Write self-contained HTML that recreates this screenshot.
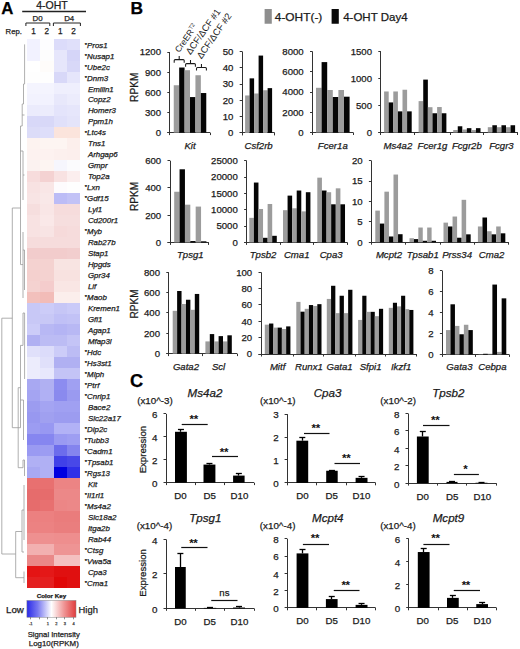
<!DOCTYPE html>
<html><head><meta charset="utf-8"><title>Figure</title>
<style>
html,body{margin:0;padding:0;background:#fff;}
body{width:520px;height:649px;overflow:hidden;}
svg{display:block;font-family:"Liberation Sans", sans-serif;}
</style></head>
<body>
<svg width="520" height="649" viewBox="0 0 520 649">
<rect width="520" height="649" fill="#fff"/>
<text x="1.30" y="13.80" font-size="16.8" text-anchor="start" font-weight="bold" fill="#000" stroke="#000" stroke-width="0.25">A</text>
<text x="52.00" y="9.00" font-size="10.5" text-anchor="middle" fill="#1a1a1a" stroke="#1a1a1a" stroke-width="0.25">4-OHT</text>
<line x1="22.20" y1="11.50" x2="86.00" y2="11.50" stroke="#222" stroke-width="1.3"/>
<text x="37.50" y="20.90" font-size="7.9" text-anchor="middle" fill="#1a1a1a" stroke="#1a1a1a" stroke-width="0.25">D0</text>
<text x="69.20" y="20.90" font-size="7.9" text-anchor="middle" fill="#1a1a1a" stroke="#1a1a1a" stroke-width="0.25">D4</text>
<path d="M25.90,26.00 V23.00 H49.80 V26.00" fill="none" stroke="#222" stroke-width="1"/>
<path d="M53.40,26.00 V23.00 H80.40 V26.00" fill="none" stroke="#222" stroke-width="1"/>
<text x="5.60" y="33.60" font-size="7.7" text-anchor="start" fill="#1a1a1a" stroke="#1a1a1a" stroke-width="0.25">Rep.</text>
<text x="33.60" y="33.90" font-size="8.2" text-anchor="middle" fill="#1a1a1a" stroke="#1a1a1a" stroke-width="0.25">1</text>
<text x="46.90" y="33.90" font-size="8.2" text-anchor="middle" fill="#1a1a1a" stroke="#1a1a1a" stroke-width="0.25">2</text>
<text x="60.30" y="33.90" font-size="8.2" text-anchor="middle" fill="#1a1a1a" stroke="#1a1a1a" stroke-width="0.25">1</text>
<text x="73.60" y="33.90" font-size="8.2" text-anchor="middle" fill="#1a1a1a" stroke="#1a1a1a" stroke-width="0.25">2</text>
<g shape-rendering="crispEdges">
<rect x="27.00" y="39.00" width="13.25" height="11.03" fill="#f2f2ff"/>
<rect x="40.20" y="39.00" width="13.35" height="11.03" fill="#fdfdff"/>
<rect x="53.50" y="39.00" width="13.55" height="11.03" fill="#dcdcfa"/>
<rect x="67.00" y="39.00" width="13.25" height="11.03" fill="#e0e0fa"/>
<rect x="27.00" y="49.98" width="13.25" height="11.03" fill="#f2f2ff"/>
<rect x="40.20" y="49.98" width="13.35" height="11.03" fill="#fdfdfd"/>
<rect x="53.50" y="49.98" width="13.55" height="11.03" fill="#e6e6fb"/>
<rect x="67.00" y="49.98" width="13.25" height="11.03" fill="#d5d5f8"/>
<rect x="27.00" y="60.96" width="13.25" height="11.03" fill="#ffffff"/>
<rect x="40.20" y="60.96" width="13.35" height="11.03" fill="#fefcfa"/>
<rect x="53.50" y="60.96" width="13.55" height="11.03" fill="#e6e6fb"/>
<rect x="67.00" y="60.96" width="13.25" height="11.03" fill="#d8d8f8"/>
<rect x="27.00" y="71.94" width="13.25" height="11.03" fill="#fefefe"/>
<rect x="40.20" y="71.94" width="13.35" height="11.03" fill="#fefefe"/>
<rect x="53.50" y="71.94" width="13.55" height="11.03" fill="#d8d8f8"/>
<rect x="67.00" y="71.94" width="13.25" height="11.03" fill="#e6e6fb"/>
<rect x="27.00" y="82.92" width="13.25" height="11.03" fill="#f4f4fe"/>
<rect x="40.20" y="82.92" width="13.35" height="11.03" fill="#f4f4fe"/>
<rect x="53.50" y="82.92" width="13.55" height="11.03" fill="#efeffd"/>
<rect x="67.00" y="82.92" width="13.25" height="11.03" fill="#efeffd"/>
<rect x="27.00" y="93.90" width="13.25" height="11.03" fill="#f2f2fe"/>
<rect x="40.20" y="93.90" width="13.35" height="11.03" fill="#f2f2fe"/>
<rect x="53.50" y="93.90" width="13.55" height="11.03" fill="#e8e8fb"/>
<rect x="67.00" y="93.90" width="13.25" height="11.03" fill="#ececfc"/>
<rect x="27.00" y="104.88" width="13.25" height="11.03" fill="#ebebfc"/>
<rect x="40.20" y="104.88" width="13.35" height="11.03" fill="#ececfc"/>
<rect x="53.50" y="104.88" width="13.55" height="11.03" fill="#e4e4fb"/>
<rect x="67.00" y="104.88" width="13.25" height="11.03" fill="#e6e6fb"/>
<rect x="27.00" y="115.86" width="13.25" height="11.03" fill="#d8d8f8"/>
<rect x="40.20" y="115.86" width="13.35" height="11.03" fill="#d8d8f8"/>
<rect x="53.50" y="115.86" width="13.55" height="11.03" fill="#e0e0fa"/>
<rect x="67.00" y="115.86" width="13.25" height="11.03" fill="#e4e4fa"/>
<rect x="27.00" y="126.84" width="13.25" height="11.03" fill="#dcdcf8"/>
<rect x="40.20" y="126.84" width="13.35" height="11.03" fill="#dedefa"/>
<rect x="53.50" y="126.84" width="13.55" height="11.03" fill="#fbe4dc"/>
<rect x="67.00" y="126.84" width="13.25" height="11.03" fill="#fbe4dc"/>
<rect x="27.00" y="137.82" width="13.25" height="11.03" fill="#fdf3f0"/>
<rect x="40.20" y="137.82" width="13.35" height="11.03" fill="#fdf5f2"/>
<rect x="53.50" y="137.82" width="13.55" height="11.03" fill="#fdf5f2"/>
<rect x="67.00" y="137.82" width="13.25" height="11.03" fill="#fcefec"/>
<rect x="27.00" y="148.80" width="13.25" height="11.03" fill="#fdf2f0"/>
<rect x="40.20" y="148.80" width="13.35" height="11.03" fill="#fdf2f0"/>
<rect x="53.50" y="148.80" width="13.55" height="11.03" fill="#fcf0ee"/>
<rect x="67.00" y="148.80" width="13.25" height="11.03" fill="#fcefed"/>
<rect x="27.00" y="159.78" width="13.25" height="11.03" fill="#fbf2f0"/>
<rect x="40.20" y="159.78" width="13.35" height="11.03" fill="#fdf5f2"/>
<rect x="53.50" y="159.78" width="13.55" height="11.03" fill="#f6f6fd"/>
<rect x="67.00" y="159.78" width="13.25" height="11.03" fill="#fbfbfd"/>
<rect x="27.00" y="170.76" width="13.25" height="11.03" fill="#f7dcdc"/>
<rect x="40.20" y="170.76" width="13.35" height="11.03" fill="#f4d2d2"/>
<rect x="53.50" y="170.76" width="13.55" height="11.03" fill="#f8e2e2"/>
<rect x="67.00" y="170.76" width="13.25" height="11.03" fill="#fbeeee"/>
<rect x="27.00" y="181.74" width="13.25" height="11.03" fill="#f8e2e2"/>
<rect x="40.20" y="181.74" width="13.35" height="11.03" fill="#f9e6e6"/>
<rect x="53.50" y="181.74" width="13.55" height="11.03" fill="#fdfbfd"/>
<rect x="67.00" y="181.74" width="13.25" height="11.03" fill="#fefefe"/>
<rect x="27.00" y="192.72" width="13.25" height="11.03" fill="#f8e4e4"/>
<rect x="40.20" y="192.72" width="13.35" height="11.03" fill="#f9e8e8"/>
<rect x="53.50" y="192.72" width="13.55" height="11.03" fill="#bcbcf6"/>
<rect x="67.00" y="192.72" width="13.25" height="11.03" fill="#c2c2f6"/>
<rect x="27.00" y="203.70" width="13.25" height="11.03" fill="#f6dede"/>
<rect x="40.20" y="203.70" width="13.35" height="11.03" fill="#f9e6e6"/>
<rect x="53.50" y="203.70" width="13.55" height="11.03" fill="#f6dcdc"/>
<rect x="67.00" y="203.70" width="13.25" height="11.03" fill="#f6dcdc"/>
<rect x="27.00" y="214.68" width="13.25" height="11.03" fill="#f8e2e2"/>
<rect x="40.20" y="214.68" width="13.35" height="11.03" fill="#fae8e8"/>
<rect x="53.50" y="214.68" width="13.55" height="11.03" fill="#f6dede"/>
<rect x="67.00" y="214.68" width="13.25" height="11.03" fill="#f6dede"/>
<rect x="27.00" y="225.66" width="13.25" height="11.03" fill="#f8e2e2"/>
<rect x="40.20" y="225.66" width="13.35" height="11.03" fill="#f8e4e4"/>
<rect x="53.50" y="225.66" width="13.55" height="11.03" fill="#f6dada"/>
<rect x="67.00" y="225.66" width="13.25" height="11.03" fill="#f6dcdc"/>
<rect x="27.00" y="236.64" width="13.25" height="11.03" fill="#f6dcdc"/>
<rect x="40.20" y="236.64" width="13.35" height="11.03" fill="#f6dcdc"/>
<rect x="53.50" y="236.64" width="13.55" height="11.03" fill="#f6dcdc"/>
<rect x="67.00" y="236.64" width="13.25" height="11.03" fill="#f6dcdc"/>
<rect x="27.00" y="247.62" width="13.25" height="11.03" fill="#f2cccc"/>
<rect x="40.20" y="247.62" width="13.35" height="11.03" fill="#f2cccc"/>
<rect x="53.50" y="247.62" width="13.55" height="11.03" fill="#f2cccc"/>
<rect x="67.00" y="247.62" width="13.25" height="11.03" fill="#f2cece"/>
<rect x="27.00" y="258.60" width="13.25" height="11.03" fill="#f4d2d0"/>
<rect x="40.20" y="258.60" width="13.35" height="11.03" fill="#f4d2d0"/>
<rect x="53.50" y="258.60" width="13.55" height="11.03" fill="#f8e4e2"/>
<rect x="67.00" y="258.60" width="13.25" height="11.03" fill="#f8e4e2"/>
<rect x="27.00" y="269.58" width="13.25" height="11.03" fill="#f4d0ce"/>
<rect x="40.20" y="269.58" width="13.35" height="11.03" fill="#f4d2d0"/>
<rect x="53.50" y="269.58" width="13.55" height="11.03" fill="#f8e2e0"/>
<rect x="67.00" y="269.58" width="13.25" height="11.03" fill="#f8e2e0"/>
<rect x="27.00" y="280.56" width="13.25" height="11.03" fill="#f4d2d0"/>
<rect x="40.20" y="280.56" width="13.35" height="11.03" fill="#f4cccc"/>
<rect x="53.50" y="280.56" width="13.55" height="11.03" fill="#f9e6e4"/>
<rect x="67.00" y="280.56" width="13.25" height="11.03" fill="#f9e6e4"/>
<rect x="27.00" y="291.54" width="13.25" height="11.03" fill="#f2c0bc"/>
<rect x="40.20" y="291.54" width="13.35" height="11.03" fill="#f2bcb8"/>
<rect x="53.50" y="291.54" width="13.55" height="11.03" fill="#fbeeec"/>
<rect x="67.00" y="291.54" width="13.25" height="11.03" fill="#fbeeec"/>
<rect x="27.00" y="302.52" width="13.25" height="11.03" fill="#c8c8f6"/>
<rect x="40.20" y="302.52" width="13.35" height="11.03" fill="#ccccf8"/>
<rect x="53.50" y="302.52" width="13.55" height="11.03" fill="#c6c6f6"/>
<rect x="67.00" y="302.52" width="13.25" height="11.03" fill="#cacaf8"/>
<rect x="27.00" y="313.50" width="13.25" height="11.03" fill="#c8c8f6"/>
<rect x="40.20" y="313.50" width="13.35" height="11.03" fill="#c8c8f6"/>
<rect x="53.50" y="313.50" width="13.55" height="11.03" fill="#c0c0f6"/>
<rect x="67.00" y="313.50" width="13.25" height="11.03" fill="#c2c2f6"/>
<rect x="27.00" y="324.48" width="13.25" height="11.03" fill="#ccccf8"/>
<rect x="40.20" y="324.48" width="13.35" height="11.03" fill="#b8b8f4"/>
<rect x="53.50" y="324.48" width="13.55" height="11.03" fill="#b4b4f4"/>
<rect x="67.00" y="324.48" width="13.25" height="11.03" fill="#b8b8f4"/>
<rect x="27.00" y="335.46" width="13.25" height="11.03" fill="#b0b0f2"/>
<rect x="40.20" y="335.46" width="13.35" height="11.03" fill="#bcbcf4"/>
<rect x="53.50" y="335.46" width="13.55" height="11.03" fill="#bcbcf4"/>
<rect x="67.00" y="335.46" width="13.25" height="11.03" fill="#c4c4f6"/>
<rect x="27.00" y="346.44" width="13.25" height="11.03" fill="#e0e0fa"/>
<rect x="40.20" y="346.44" width="13.35" height="11.03" fill="#dcdcfa"/>
<rect x="53.50" y="346.44" width="13.55" height="11.03" fill="#ccccf8"/>
<rect x="67.00" y="346.44" width="13.25" height="11.03" fill="#bcbcf4"/>
<rect x="27.00" y="357.42" width="13.25" height="11.03" fill="#ececfc"/>
<rect x="40.20" y="357.42" width="13.35" height="11.03" fill="#e0e0fa"/>
<rect x="53.50" y="357.42" width="13.55" height="11.03" fill="#b0b0f2"/>
<rect x="67.00" y="357.42" width="13.25" height="11.03" fill="#b0b0f2"/>
<rect x="27.00" y="368.40" width="13.25" height="11.03" fill="#ececfc"/>
<rect x="40.20" y="368.40" width="13.35" height="11.03" fill="#e8e8fc"/>
<rect x="53.50" y="368.40" width="13.55" height="11.03" fill="#c4c4f6"/>
<rect x="67.00" y="368.40" width="13.25" height="11.03" fill="#c4c4f6"/>
<rect x="27.00" y="379.38" width="13.25" height="11.03" fill="#a8a8f2"/>
<rect x="40.20" y="379.38" width="13.35" height="11.03" fill="#b0b0f2"/>
<rect x="53.50" y="379.38" width="13.55" height="11.03" fill="#8c8cf0"/>
<rect x="67.00" y="379.38" width="13.25" height="11.03" fill="#a0a0f2"/>
<rect x="27.00" y="390.36" width="13.25" height="11.03" fill="#a4a4f2"/>
<rect x="40.20" y="390.36" width="13.35" height="11.03" fill="#b0b0f4"/>
<rect x="53.50" y="390.36" width="13.55" height="11.03" fill="#8a8aee"/>
<rect x="67.00" y="390.36" width="13.25" height="11.03" fill="#9a9af0"/>
<rect x="27.00" y="401.34" width="13.25" height="11.03" fill="#9c9cf0"/>
<rect x="40.20" y="401.34" width="13.35" height="11.03" fill="#a4a4f2"/>
<rect x="53.50" y="401.34" width="13.55" height="11.03" fill="#a0a0f2"/>
<rect x="67.00" y="401.34" width="13.25" height="11.03" fill="#a0a0f2"/>
<rect x="27.00" y="412.32" width="13.25" height="11.03" fill="#9898f0"/>
<rect x="40.20" y="412.32" width="13.35" height="11.03" fill="#a0a0f0"/>
<rect x="53.50" y="412.32" width="13.55" height="11.03" fill="#9c9cf0"/>
<rect x="67.00" y="412.32" width="13.25" height="11.03" fill="#9c9cf0"/>
<rect x="27.00" y="423.30" width="13.25" height="11.03" fill="#9c9cf2"/>
<rect x="40.20" y="423.30" width="13.35" height="11.03" fill="#9898f2"/>
<rect x="53.50" y="423.30" width="13.55" height="11.03" fill="#b2b2f6"/>
<rect x="67.00" y="423.30" width="13.25" height="11.03" fill="#b2b2f6"/>
<rect x="27.00" y="434.28" width="13.25" height="11.03" fill="#8686f0"/>
<rect x="40.20" y="434.28" width="13.35" height="11.03" fill="#8686f0"/>
<rect x="53.50" y="434.28" width="13.55" height="11.03" fill="#9a9af2"/>
<rect x="67.00" y="434.28" width="13.25" height="11.03" fill="#9e9ef2"/>
<rect x="27.00" y="445.26" width="13.25" height="11.03" fill="#9a9af2"/>
<rect x="40.20" y="445.26" width="13.35" height="11.03" fill="#9c9cf2"/>
<rect x="53.50" y="445.26" width="13.55" height="11.03" fill="#6c6cec"/>
<rect x="67.00" y="445.26" width="13.25" height="11.03" fill="#8484ee"/>
<rect x="27.00" y="456.24" width="13.25" height="11.03" fill="#b0b0f4"/>
<rect x="40.20" y="456.24" width="13.35" height="11.03" fill="#b0b0f4"/>
<rect x="53.50" y="456.24" width="13.55" height="11.03" fill="#4040e8"/>
<rect x="67.00" y="456.24" width="13.25" height="11.03" fill="#4848e8"/>
<rect x="27.00" y="467.22" width="13.25" height="11.03" fill="#a8a8f2"/>
<rect x="40.20" y="467.22" width="13.35" height="11.03" fill="#b0b0f4"/>
<rect x="53.50" y="467.22" width="13.55" height="11.03" fill="#0000e0"/>
<rect x="67.00" y="467.22" width="13.25" height="11.03" fill="#3030e8"/>
<rect x="27.00" y="478.20" width="13.25" height="11.03" fill="#e87070"/>
<rect x="40.20" y="478.20" width="13.35" height="11.03" fill="#e87070"/>
<rect x="53.50" y="478.20" width="13.55" height="11.03" fill="#ec8484"/>
<rect x="67.00" y="478.20" width="13.25" height="11.03" fill="#ec8484"/>
<rect x="27.00" y="489.18" width="13.25" height="11.03" fill="#e66c6c"/>
<rect x="40.20" y="489.18" width="13.35" height="11.03" fill="#e66c6c"/>
<rect x="53.50" y="489.18" width="13.55" height="11.03" fill="#ec8888"/>
<rect x="67.00" y="489.18" width="13.25" height="11.03" fill="#ec8888"/>
<rect x="27.00" y="500.16" width="13.25" height="11.03" fill="#e66c6c"/>
<rect x="40.20" y="500.16" width="13.35" height="11.03" fill="#e87070"/>
<rect x="53.50" y="500.16" width="13.55" height="11.03" fill="#ec8686"/>
<rect x="67.00" y="500.16" width="13.25" height="11.03" fill="#ec8888"/>
<rect x="27.00" y="511.14" width="13.25" height="11.03" fill="#ec8080"/>
<rect x="40.20" y="511.14" width="13.35" height="11.03" fill="#ec8080"/>
<rect x="53.50" y="511.14" width="13.55" height="11.03" fill="#ea7c7c"/>
<rect x="67.00" y="511.14" width="13.25" height="11.03" fill="#ea7c7c"/>
<rect x="27.00" y="522.12" width="13.25" height="11.03" fill="#ec8282"/>
<rect x="40.20" y="522.12" width="13.35" height="11.03" fill="#ec8282"/>
<rect x="53.50" y="522.12" width="13.55" height="11.03" fill="#ea7e7e"/>
<rect x="67.00" y="522.12" width="13.25" height="11.03" fill="#ea7e7e"/>
<rect x="27.00" y="533.10" width="13.25" height="11.03" fill="#ee9090"/>
<rect x="40.20" y="533.10" width="13.35" height="11.03" fill="#ee9090"/>
<rect x="53.50" y="533.10" width="13.55" height="11.03" fill="#ee8e8e"/>
<rect x="67.00" y="533.10" width="13.25" height="11.03" fill="#ee8e8e"/>
<rect x="27.00" y="544.08" width="13.25" height="11.03" fill="#f2b0b0"/>
<rect x="40.20" y="544.08" width="13.35" height="11.03" fill="#f2b0b0"/>
<rect x="53.50" y="544.08" width="13.55" height="11.03" fill="#ee9494"/>
<rect x="67.00" y="544.08" width="13.25" height="11.03" fill="#ee9494"/>
<rect x="27.00" y="555.06" width="13.25" height="11.03" fill="#ea8888"/>
<rect x="40.20" y="555.06" width="13.35" height="11.03" fill="#ea8888"/>
<rect x="53.50" y="555.06" width="13.55" height="11.03" fill="#f4c0c0"/>
<rect x="67.00" y="555.06" width="13.25" height="11.03" fill="#f4c0c0"/>
<rect x="27.00" y="566.04" width="13.25" height="11.03" fill="#e41414"/>
<rect x="40.20" y="566.04" width="13.35" height="11.03" fill="#e41818"/>
<rect x="53.50" y="566.04" width="13.55" height="11.03" fill="#e01010"/>
<rect x="67.00" y="566.04" width="13.25" height="11.03" fill="#e01010"/>
<rect x="27.00" y="577.02" width="13.25" height="11.03" fill="#e42020"/>
<rect x="40.20" y="577.02" width="13.35" height="11.03" fill="#e42020"/>
<rect x="53.50" y="577.02" width="13.55" height="11.03" fill="#e00808"/>
<rect x="67.00" y="577.02" width="13.25" height="11.03" fill="#e01010"/>
</g>
<text x="84.70" y="46.69" font-size="5.8" text-anchor="start" fill="#1a1a1a" stroke="#1a1a1a" stroke-width="0.25">*</text>
<text x="87.10" y="47.59" font-size="7.9" text-anchor="start" font-style="italic" fill="#1a1a1a" stroke="#1a1a1a" stroke-width="0.25">Pros1</text>
<text x="84.70" y="57.67" font-size="5.8" text-anchor="start" fill="#1a1a1a" stroke="#1a1a1a" stroke-width="0.25">*</text>
<text x="87.10" y="58.57" font-size="7.9" text-anchor="start" font-style="italic" fill="#1a1a1a" stroke="#1a1a1a" stroke-width="0.25">Nusap1</text>
<text x="84.70" y="68.65" font-size="5.8" text-anchor="start" fill="#1a1a1a" stroke="#1a1a1a" stroke-width="0.25">*</text>
<text x="87.10" y="69.55" font-size="7.9" text-anchor="start" font-style="italic" fill="#1a1a1a" stroke="#1a1a1a" stroke-width="0.25">Ube2c</text>
<text x="84.70" y="79.63" font-size="5.8" text-anchor="start" fill="#1a1a1a" stroke="#1a1a1a" stroke-width="0.25">*</text>
<text x="87.10" y="80.53" font-size="7.9" text-anchor="start" font-style="italic" fill="#1a1a1a" stroke="#1a1a1a" stroke-width="0.25">Dnm3</text>
<text x="87.90" y="91.51" font-size="7.9" text-anchor="start" font-style="italic" fill="#1a1a1a" stroke="#1a1a1a" stroke-width="0.25">Emilin1</text>
<text x="87.90" y="102.49" font-size="7.9" text-anchor="start" font-style="italic" fill="#1a1a1a" stroke="#1a1a1a" stroke-width="0.25">Copz2</text>
<text x="87.90" y="113.47" font-size="7.9" text-anchor="start" font-style="italic" fill="#1a1a1a" stroke="#1a1a1a" stroke-width="0.25">Homer3</text>
<text x="87.90" y="124.45" font-size="7.9" text-anchor="start" font-style="italic" fill="#1a1a1a" stroke="#1a1a1a" stroke-width="0.25">Ppm1h</text>
<text x="84.70" y="134.53" font-size="5.8" text-anchor="start" fill="#1a1a1a" stroke="#1a1a1a" stroke-width="0.25">*</text>
<text x="87.10" y="135.43" font-size="7.9" text-anchor="start" font-style="italic" fill="#1a1a1a" stroke="#1a1a1a" stroke-width="0.25">Ltc4s</text>
<text x="87.90" y="146.41" font-size="7.9" text-anchor="start" font-style="italic" fill="#1a1a1a" stroke="#1a1a1a" stroke-width="0.25">Tns1</text>
<text x="87.90" y="157.39" font-size="7.9" text-anchor="start" font-style="italic" fill="#1a1a1a" stroke="#1a1a1a" stroke-width="0.25">Arhgap6</text>
<text x="87.90" y="168.37" font-size="7.9" text-anchor="start" font-style="italic" fill="#1a1a1a" stroke="#1a1a1a" stroke-width="0.25">Gmpr</text>
<text x="87.90" y="179.35" font-size="7.9" text-anchor="start" font-style="italic" fill="#1a1a1a" stroke="#1a1a1a" stroke-width="0.25">Top2a</text>
<text x="84.70" y="189.43" font-size="5.8" text-anchor="start" fill="#1a1a1a" stroke="#1a1a1a" stroke-width="0.25">*</text>
<text x="87.10" y="190.33" font-size="7.9" text-anchor="start" font-style="italic" fill="#1a1a1a" stroke="#1a1a1a" stroke-width="0.25">Lxn</text>
<text x="84.70" y="200.41" font-size="5.8" text-anchor="start" fill="#1a1a1a" stroke="#1a1a1a" stroke-width="0.25">*</text>
<text x="87.10" y="201.31" font-size="7.9" text-anchor="start" font-style="italic" fill="#1a1a1a" stroke="#1a1a1a" stroke-width="0.25">Gdf15</text>
<text x="87.90" y="212.29" font-size="7.9" text-anchor="start" font-style="italic" fill="#1a1a1a" stroke="#1a1a1a" stroke-width="0.25">Lyl1</text>
<text x="87.90" y="223.27" font-size="7.9" text-anchor="start" font-style="italic" fill="#1a1a1a" stroke="#1a1a1a" stroke-width="0.25">Cd200r1</text>
<text x="84.70" y="233.35" font-size="5.8" text-anchor="start" fill="#1a1a1a" stroke="#1a1a1a" stroke-width="0.25">*</text>
<text x="87.10" y="234.25" font-size="7.9" text-anchor="start" font-style="italic" fill="#1a1a1a" stroke="#1a1a1a" stroke-width="0.25">Myb</text>
<text x="87.90" y="245.23" font-size="7.9" text-anchor="start" font-style="italic" fill="#1a1a1a" stroke="#1a1a1a" stroke-width="0.25">Rab27b</text>
<text x="87.90" y="256.21" font-size="7.9" text-anchor="start" font-style="italic" fill="#1a1a1a" stroke="#1a1a1a" stroke-width="0.25">Stap1</text>
<text x="87.90" y="267.19" font-size="7.9" text-anchor="start" font-style="italic" fill="#1a1a1a" stroke="#1a1a1a" stroke-width="0.25">Hpgds</text>
<text x="87.90" y="278.17" font-size="7.9" text-anchor="start" font-style="italic" fill="#1a1a1a" stroke="#1a1a1a" stroke-width="0.25">Gpr34</text>
<text x="87.90" y="289.15" font-size="7.9" text-anchor="start" font-style="italic" fill="#1a1a1a" stroke="#1a1a1a" stroke-width="0.25">Lif</text>
<text x="84.70" y="299.23" font-size="5.8" text-anchor="start" fill="#1a1a1a" stroke="#1a1a1a" stroke-width="0.25">*</text>
<text x="87.10" y="300.13" font-size="7.9" text-anchor="start" font-style="italic" fill="#1a1a1a" stroke="#1a1a1a" stroke-width="0.25">Maob</text>
<text x="87.90" y="311.11" font-size="7.9" text-anchor="start" font-style="italic" fill="#1a1a1a" stroke="#1a1a1a" stroke-width="0.25">Kremen1</text>
<text x="87.90" y="322.09" font-size="7.9" text-anchor="start" font-style="italic" fill="#1a1a1a" stroke="#1a1a1a" stroke-width="0.25">Gfi1</text>
<text x="87.90" y="333.07" font-size="7.9" text-anchor="start" font-style="italic" fill="#1a1a1a" stroke="#1a1a1a" stroke-width="0.25">Agap1</text>
<text x="87.90" y="344.05" font-size="7.9" text-anchor="start" font-style="italic" fill="#1a1a1a" stroke="#1a1a1a" stroke-width="0.25">Mfap3l</text>
<text x="84.70" y="354.13" font-size="5.8" text-anchor="start" fill="#1a1a1a" stroke="#1a1a1a" stroke-width="0.25">*</text>
<text x="87.10" y="355.03" font-size="7.9" text-anchor="start" font-style="italic" fill="#1a1a1a" stroke="#1a1a1a" stroke-width="0.25">Hdc</text>
<text x="84.70" y="365.11" font-size="5.8" text-anchor="start" fill="#1a1a1a" stroke="#1a1a1a" stroke-width="0.25">*</text>
<text x="87.10" y="366.01" font-size="7.9" text-anchor="start" font-style="italic" fill="#1a1a1a" stroke="#1a1a1a" stroke-width="0.25">Hs3st1</text>
<text x="84.70" y="376.09" font-size="5.8" text-anchor="start" fill="#1a1a1a" stroke="#1a1a1a" stroke-width="0.25">*</text>
<text x="87.10" y="376.99" font-size="7.9" text-anchor="start" font-style="italic" fill="#1a1a1a" stroke="#1a1a1a" stroke-width="0.25">Mlph</text>
<text x="84.70" y="387.07" font-size="5.8" text-anchor="start" fill="#1a1a1a" stroke="#1a1a1a" stroke-width="0.25">*</text>
<text x="87.10" y="387.97" font-size="7.9" text-anchor="start" font-style="italic" fill="#1a1a1a" stroke="#1a1a1a" stroke-width="0.25">Ptrf</text>
<text x="84.70" y="398.05" font-size="5.8" text-anchor="start" fill="#1a1a1a" stroke="#1a1a1a" stroke-width="0.25">*</text>
<text x="87.10" y="398.95" font-size="7.9" text-anchor="start" font-style="italic" fill="#1a1a1a" stroke="#1a1a1a" stroke-width="0.25">Cnrip1</text>
<text x="87.90" y="409.93" font-size="7.9" text-anchor="start" font-style="italic" fill="#1a1a1a" stroke="#1a1a1a" stroke-width="0.25">Bace2</text>
<text x="87.90" y="420.91" font-size="7.9" text-anchor="start" font-style="italic" fill="#1a1a1a" stroke="#1a1a1a" stroke-width="0.25">Slc22a17</text>
<text x="84.70" y="430.99" font-size="5.8" text-anchor="start" fill="#1a1a1a" stroke="#1a1a1a" stroke-width="0.25">*</text>
<text x="87.10" y="431.89" font-size="7.9" text-anchor="start" font-style="italic" fill="#1a1a1a" stroke="#1a1a1a" stroke-width="0.25">Dip2c</text>
<text x="84.70" y="441.97" font-size="5.8" text-anchor="start" fill="#1a1a1a" stroke="#1a1a1a" stroke-width="0.25">*</text>
<text x="87.10" y="442.87" font-size="7.9" text-anchor="start" font-style="italic" fill="#1a1a1a" stroke="#1a1a1a" stroke-width="0.25">Tubb3</text>
<text x="84.70" y="452.95" font-size="5.8" text-anchor="start" fill="#1a1a1a" stroke="#1a1a1a" stroke-width="0.25">*</text>
<text x="87.10" y="453.85" font-size="7.9" text-anchor="start" font-style="italic" fill="#1a1a1a" stroke="#1a1a1a" stroke-width="0.25">Cadm1</text>
<text x="84.70" y="463.93" font-size="5.8" text-anchor="start" fill="#1a1a1a" stroke="#1a1a1a" stroke-width="0.25">*</text>
<text x="87.10" y="464.83" font-size="7.9" text-anchor="start" font-style="italic" fill="#1a1a1a" stroke="#1a1a1a" stroke-width="0.25">Tpsab1</text>
<text x="84.70" y="474.91" font-size="5.8" text-anchor="start" fill="#1a1a1a" stroke="#1a1a1a" stroke-width="0.25">*</text>
<text x="87.10" y="475.81" font-size="7.9" text-anchor="start" font-style="italic" fill="#1a1a1a" stroke="#1a1a1a" stroke-width="0.25">Rgs13</text>
<text x="87.90" y="486.79" font-size="7.9" text-anchor="start" font-style="italic" fill="#1a1a1a" stroke="#1a1a1a" stroke-width="0.25">Kit</text>
<text x="84.70" y="496.87" font-size="5.8" text-anchor="start" fill="#1a1a1a" stroke="#1a1a1a" stroke-width="0.25">*</text>
<text x="87.10" y="497.77" font-size="7.9" text-anchor="start" font-style="italic" fill="#1a1a1a" stroke="#1a1a1a" stroke-width="0.25">Il1rl1</text>
<text x="84.70" y="507.85" font-size="5.8" text-anchor="start" fill="#1a1a1a" stroke="#1a1a1a" stroke-width="0.25">*</text>
<text x="87.10" y="508.75" font-size="7.9" text-anchor="start" font-style="italic" fill="#1a1a1a" stroke="#1a1a1a" stroke-width="0.25">Ms4a2</text>
<text x="87.90" y="519.73" font-size="7.9" text-anchor="start" font-style="italic" fill="#1a1a1a" stroke="#1a1a1a" stroke-width="0.25">Slc18a2</text>
<text x="87.90" y="530.71" font-size="7.9" text-anchor="start" font-style="italic" fill="#1a1a1a" stroke="#1a1a1a" stroke-width="0.25">Itga2b</text>
<text x="87.90" y="541.69" font-size="7.9" text-anchor="start" font-style="italic" fill="#1a1a1a" stroke="#1a1a1a" stroke-width="0.25">Rab44</text>
<text x="84.70" y="551.77" font-size="5.8" text-anchor="start" fill="#1a1a1a" stroke="#1a1a1a" stroke-width="0.25">*</text>
<text x="87.10" y="552.67" font-size="7.9" text-anchor="start" font-style="italic" fill="#1a1a1a" stroke="#1a1a1a" stroke-width="0.25">Ctsg</text>
<text x="84.70" y="562.75" font-size="5.8" text-anchor="start" fill="#1a1a1a" stroke="#1a1a1a" stroke-width="0.25">*</text>
<text x="87.10" y="563.65" font-size="7.9" text-anchor="start" font-style="italic" fill="#1a1a1a" stroke="#1a1a1a" stroke-width="0.25">Vwa5a</text>
<text x="87.90" y="574.63" font-size="7.9" text-anchor="start" font-style="italic" fill="#1a1a1a" stroke="#1a1a1a" stroke-width="0.25">Cpa3</text>
<text x="84.70" y="584.71" font-size="5.8" text-anchor="start" fill="#1a1a1a" stroke="#1a1a1a" stroke-width="0.25">*</text>
<text x="87.10" y="585.61" font-size="7.9" text-anchor="start" font-style="italic" fill="#1a1a1a" stroke="#1a1a1a" stroke-width="0.25">Cma1</text>
<path d="M1.8,318.2 L1.8,554.0" fill="none" stroke="#9a9a9a" stroke-width="0.8"/>
<path d="M1.8,318.2 L12.3,318.2" fill="none" stroke="#9a9a9a" stroke-width="0.8"/>
<path d="M20.5,208.0 L12.3,208.0 L12.3,427.7 L20.5,427.7" fill="none" stroke="#9a9a9a" stroke-width="0.8"/>
<path d="M24.6,44.4 L24.6,84.0 L23.5,84.0 L23.5,104.0 L22.2,104.0 L22.2,126.0 L20.5,126.0 L20.5,264.6 L23.0,264.6" fill="none" stroke="#9a9a9a" stroke-width="0.8"/>
<path d="M22.2,115.0 L24.5,115.0" fill="none" stroke="#9a9a9a" stroke-width="0.8"/>
<path d="M20.5,151.0 L23.0,151.0 L23.0,200.0" fill="none" stroke="#9a9a9a" stroke-width="0.8"/>
<path d="M23.0,175.0 L24.5,175.0" fill="none" stroke="#9a9a9a" stroke-width="0.8"/>
<path d="M23.0,232.0 L23.0,298.0" fill="none" stroke="#9a9a9a" stroke-width="0.8"/>
<path d="M23.0,250.0 L24.5,250.0 L24.5,290.0" fill="none" stroke="#9a9a9a" stroke-width="0.8"/>
<path d="M20.5,345.4 L20.5,427.7" fill="none" stroke="#9a9a9a" stroke-width="0.8"/>
<path d="M20.5,345.4 L23.0,345.4 L23.0,313.0 L24.6,313.0 L24.6,379.0" fill="none" stroke="#9a9a9a" stroke-width="0.8"/>
<path d="M18.2,387.7 L20.5,387.7" fill="none" stroke="#9a9a9a" stroke-width="0.8"/>
<path d="M18.2,387.7 L18.2,467.7 L23.0,467.7 L23.0,460.0 L24.5,460.0 L24.5,476.0" fill="none" stroke="#9a9a9a" stroke-width="0.8"/>
<path d="M20.5,400.0 L23.5,400.0 L23.5,440.0" fill="none" stroke="#9a9a9a" stroke-width="0.8"/>
<path d="M1.8,554.0 L15.7,554.0" fill="none" stroke="#9a9a9a" stroke-width="0.8"/>
<path d="M22.0,531.5 L15.7,531.5 L15.7,577.7 L24.0,577.7" fill="none" stroke="#9a9a9a" stroke-width="0.8"/>
<path d="M24.0,571.5 L24.0,583.0" fill="none" stroke="#9a9a9a" stroke-width="0.8"/>
<path d="M24.0,510.0 L22.0,510.0 L22.0,552.0 L24.0,552.0" fill="none" stroke="#9a9a9a" stroke-width="0.8"/>
<path d="M24.0,485.0 L24.0,540.0" fill="none" stroke="#9a9a9a" stroke-width="0.8"/>
<text x="51.40" y="598.20" font-size="5.6" text-anchor="middle" font-weight="bold" fill="#1a1a1a" stroke="#1a1a1a" stroke-width="0.25" textLength="29.5" lengthAdjust="spacingAndGlyphs">Color Key</text>
<defs><linearGradient id="ck" x1="0" x2="1" y1="0" y2="0"><stop offset="0" stop-color="#2a2ae8"/><stop offset="0.22" stop-color="#7878f0"/><stop offset="0.50" stop-color="#ffffff"/><stop offset="0.75" stop-color="#f09898"/><stop offset="1" stop-color="#e03c3c"/></linearGradient></defs>
<rect x="26.90" y="600.40" width="49.10" height="16.90" fill="url(#ck)"/>
<rect x="26.9" y="600.4" width="49.1" height="16.9" fill="none" stroke="#888" stroke-width="0.5"/>
<line x1="30.50" y1="617.30" x2="30.50" y2="619.30" stroke="#444" stroke-width="0.6"/>
<line x1="39.50" y1="617.30" x2="39.50" y2="619.30" stroke="#444" stroke-width="0.6"/>
<line x1="47.50" y1="617.30" x2="47.50" y2="619.30" stroke="#444" stroke-width="0.6"/>
<line x1="56.50" y1="617.30" x2="56.50" y2="619.30" stroke="#444" stroke-width="0.6"/>
<line x1="64.50" y1="617.30" x2="64.50" y2="619.30" stroke="#444" stroke-width="0.6"/>
<line x1="73.50" y1="617.30" x2="73.50" y2="619.30" stroke="#444" stroke-width="0.6"/>
<text x="30.75" y="624.70" font-size="4.0" text-anchor="middle" fill="#444" stroke="#444" stroke-width="0.25">-1</text>
<text x="47.85" y="624.70" font-size="4.0" text-anchor="middle" fill="#444" stroke="#444" stroke-width="0.25">1</text>
<text x="56.40" y="624.70" font-size="4.0" text-anchor="middle" fill="#444" stroke="#444" stroke-width="0.25">2</text>
<text x="64.95" y="624.70" font-size="4.0" text-anchor="middle" fill="#444" stroke="#444" stroke-width="0.25">3</text>
<text x="73.50" y="624.70" font-size="4.0" text-anchor="middle" fill="#444" stroke="#444" stroke-width="0.25">4</text>
<text x="6.00" y="612.60" font-size="9.7" text-anchor="start" fill="#1a1a1a" stroke="#1a1a1a" stroke-width="0.25">Low</text>
<text x="78.60" y="612.60" font-size="9.4" text-anchor="start" fill="#1a1a1a" stroke="#1a1a1a" stroke-width="0.25">High</text>
<text x="53.80" y="637.30" font-size="7.7" text-anchor="middle" fill="#1a1a1a" stroke="#1a1a1a" stroke-width="0.25">Signal Intensity</text>
<text x="53.80" y="646.00" font-size="7.9" text-anchor="middle" fill="#1a1a1a" stroke="#1a1a1a" stroke-width="0.25">Log10(RPKM)</text>
<text x="130.60" y="13.80" font-size="17.4" text-anchor="start" font-weight="bold" fill="#000" stroke="#000" stroke-width="0.25">B</text>
<rect x="264.60" y="9.00" width="7.20" height="14.75" fill="#8e8e8e"/>
<text x="274.80" y="21.10" font-size="11.5" text-anchor="start" fill="#1a1a1a" stroke="#1a1a1a" stroke-width="0.25" textLength="47.5" lengthAdjust="spacingAndGlyphs">4-OHT(-)</text>
<rect x="331.60" y="9.00" width="7.20" height="14.75" fill="#0a0a0a"/>
<text x="343.20" y="21.10" font-size="11.5" text-anchor="start" fill="#1a1a1a" stroke="#1a1a1a" stroke-width="0.25" textLength="64.4" lengthAdjust="spacingAndGlyphs">4-OHT Day4</text>
<text x="0" y="0" font-size="10.1" text-anchor="middle" fill="#1a1a1a" stroke="#1a1a1a" stroke-width="0.25" transform="translate(138.40,87.30) rotate(-90)">RPKM</text>
<line x1="169.50" y1="52.00" x2="169.50" y2="132.60" stroke="#333" stroke-width="1"/>
<line x1="167.30" y1="132.50" x2="210.00" y2="132.50" stroke="#333" stroke-width="1"/>
<line x1="167.30" y1="132.50" x2="169.80" y2="132.50" stroke="#333" stroke-width="1"/>
<text x="161.00" y="136.00" font-size="9.6" text-anchor="end" fill="#1a1a1a" stroke="#1a1a1a" stroke-width="0.25">0</text>
<line x1="167.30" y1="112.50" x2="169.80" y2="112.50" stroke="#333" stroke-width="1"/>
<text x="161.00" y="115.85" font-size="9.6" text-anchor="end" fill="#1a1a1a" stroke="#1a1a1a" stroke-width="0.25">300</text>
<line x1="167.30" y1="92.50" x2="169.80" y2="92.50" stroke="#333" stroke-width="1"/>
<text x="161.00" y="95.70" font-size="9.6" text-anchor="end" fill="#1a1a1a" stroke="#1a1a1a" stroke-width="0.25">600</text>
<line x1="167.30" y1="72.50" x2="169.80" y2="72.50" stroke="#333" stroke-width="1"/>
<text x="161.00" y="75.55" font-size="9.6" text-anchor="end" fill="#1a1a1a" stroke="#1a1a1a" stroke-width="0.25">900</text>
<line x1="167.30" y1="52.50" x2="169.80" y2="52.50" stroke="#333" stroke-width="1"/>
<text x="161.00" y="55.40" font-size="9.6" text-anchor="end" fill="#1a1a1a" stroke="#1a1a1a" stroke-width="0.25">1200</text>
<line x1="169.50" y1="132.60" x2="169.50" y2="135.10" stroke="#333" stroke-width="1"/>
<line x1="210.50" y1="132.60" x2="210.50" y2="135.10" stroke="#333" stroke-width="1"/>
<g>
<rect x="173.75" y="85.25" width="5.42" height="47.35" fill="#9c9c9c"/>
<rect x="179.17" y="67.52" width="5.42" height="65.08" fill="#050505"/>
<rect x="184.59" y="70.20" width="5.42" height="62.40" fill="#9c9c9c"/>
<rect x="190.01" y="97.07" width="5.42" height="35.53" fill="#050505"/>
<rect x="195.43" y="75.24" width="5.42" height="57.36" fill="#9c9c9c"/>
<rect x="200.85" y="93.04" width="5.42" height="39.56" fill="#050505"/>
</g>
<text x="190.01" y="148.60" font-size="9.6" text-anchor="middle" font-style="italic" fill="#1a1a1a" stroke="#1a1a1a" stroke-width="0.25">Kit</text>
<line x1="242.50" y1="51.50" x2="242.50" y2="132.90" stroke="#333" stroke-width="1"/>
<line x1="239.70" y1="132.50" x2="274.70" y2="132.50" stroke="#333" stroke-width="1"/>
<line x1="239.70" y1="132.50" x2="242.20" y2="132.50" stroke="#333" stroke-width="1"/>
<text x="233.40" y="136.30" font-size="9.6" text-anchor="end" fill="#1a1a1a" stroke="#1a1a1a" stroke-width="0.25">0</text>
<line x1="239.70" y1="116.50" x2="242.20" y2="116.50" stroke="#333" stroke-width="1"/>
<text x="233.40" y="120.02" font-size="9.6" text-anchor="end" fill="#1a1a1a" stroke="#1a1a1a" stroke-width="0.25">10</text>
<line x1="239.70" y1="100.50" x2="242.20" y2="100.50" stroke="#333" stroke-width="1"/>
<text x="233.40" y="103.74" font-size="9.6" text-anchor="end" fill="#1a1a1a" stroke="#1a1a1a" stroke-width="0.25">20</text>
<line x1="239.70" y1="84.50" x2="242.20" y2="84.50" stroke="#333" stroke-width="1"/>
<text x="233.40" y="87.46" font-size="9.6" text-anchor="end" fill="#1a1a1a" stroke="#1a1a1a" stroke-width="0.25">30</text>
<line x1="239.70" y1="67.50" x2="242.20" y2="67.50" stroke="#333" stroke-width="1"/>
<text x="233.40" y="71.18" font-size="9.6" text-anchor="end" fill="#1a1a1a" stroke="#1a1a1a" stroke-width="0.25">40</text>
<line x1="239.70" y1="51.50" x2="242.20" y2="51.50" stroke="#333" stroke-width="1"/>
<text x="233.40" y="54.90" font-size="9.6" text-anchor="end" fill="#1a1a1a" stroke="#1a1a1a" stroke-width="0.25">50</text>
<line x1="242.50" y1="132.90" x2="242.50" y2="135.40" stroke="#333" stroke-width="1"/>
<line x1="274.50" y1="132.90" x2="274.50" y2="135.40" stroke="#333" stroke-width="1"/>
<g>
<rect x="245.10" y="95.46" width="4.50" height="37.44" fill="#9c9c9c"/>
<rect x="249.60" y="78.36" width="4.50" height="54.54" fill="#050505"/>
<rect x="254.10" y="93.50" width="4.50" height="39.40" fill="#9c9c9c"/>
<rect x="258.60" y="55.57" width="4.50" height="77.33" fill="#050505"/>
<rect x="263.10" y="90.25" width="4.50" height="42.65" fill="#9c9c9c"/>
<rect x="267.60" y="88.13" width="4.50" height="44.77" fill="#050505"/>
</g>
<text x="258.60" y="148.90" font-size="9.6" text-anchor="middle" font-style="italic" fill="#1a1a1a" stroke="#1a1a1a" stroke-width="0.25">Csf2rb</text>
<line x1="312.50" y1="51.50" x2="312.50" y2="132.50" stroke="#333" stroke-width="1"/>
<line x1="310.00" y1="132.50" x2="353.30" y2="132.50" stroke="#333" stroke-width="1"/>
<line x1="310.00" y1="132.50" x2="312.50" y2="132.50" stroke="#333" stroke-width="1"/>
<text x="303.70" y="135.90" font-size="9.6" text-anchor="end" fill="#1a1a1a" stroke="#1a1a1a" stroke-width="0.25">0</text>
<line x1="310.00" y1="112.50" x2="312.50" y2="112.50" stroke="#333" stroke-width="1"/>
<text x="303.70" y="115.65" font-size="9.6" text-anchor="end" fill="#1a1a1a" stroke="#1a1a1a" stroke-width="0.25">2000</text>
<line x1="310.00" y1="92.50" x2="312.50" y2="92.50" stroke="#333" stroke-width="1"/>
<text x="303.70" y="95.40" font-size="9.6" text-anchor="end" fill="#1a1a1a" stroke="#1a1a1a" stroke-width="0.25">4000</text>
<line x1="310.00" y1="71.50" x2="312.50" y2="71.50" stroke="#333" stroke-width="1"/>
<text x="303.70" y="75.15" font-size="9.6" text-anchor="end" fill="#1a1a1a" stroke="#1a1a1a" stroke-width="0.25">6000</text>
<line x1="310.00" y1="51.50" x2="312.50" y2="51.50" stroke="#333" stroke-width="1"/>
<text x="303.70" y="54.90" font-size="9.6" text-anchor="end" fill="#1a1a1a" stroke="#1a1a1a" stroke-width="0.25">8000</text>
<line x1="312.50" y1="132.50" x2="312.50" y2="135.00" stroke="#333" stroke-width="1"/>
<line x1="353.50" y1="132.50" x2="353.50" y2="135.00" stroke="#333" stroke-width="1"/>
<g>
<rect x="316.00" y="87.80" width="5.60" height="44.70" fill="#9c9c9c"/>
<rect x="321.60" y="62.10" width="5.60" height="70.40" fill="#050505"/>
<rect x="327.20" y="90.00" width="5.60" height="42.50" fill="#9c9c9c"/>
<rect x="332.80" y="97.00" width="5.60" height="35.50" fill="#050505"/>
<rect x="338.40" y="90.00" width="5.60" height="42.50" fill="#9c9c9c"/>
<rect x="344.00" y="96.70" width="5.60" height="35.80" fill="#050505"/>
</g>
<text x="332.80" y="148.50" font-size="9.6" text-anchor="middle" font-style="italic" fill="#1a1a1a" stroke="#1a1a1a" stroke-width="0.25">Fcer1a</text>
<line x1="380.50" y1="51.20" x2="380.50" y2="132.50" stroke="#333" stroke-width="1"/>
<line x1="378.30" y1="132.50" x2="517.90" y2="132.50" stroke="#333" stroke-width="1"/>
<line x1="378.30" y1="132.50" x2="380.80" y2="132.50" stroke="#333" stroke-width="1"/>
<text x="372.00" y="135.90" font-size="9.6" text-anchor="end" fill="#1a1a1a" stroke="#1a1a1a" stroke-width="0.25">0</text>
<line x1="378.30" y1="105.50" x2="380.80" y2="105.50" stroke="#333" stroke-width="1"/>
<text x="372.00" y="108.80" font-size="9.6" text-anchor="end" fill="#1a1a1a" stroke="#1a1a1a" stroke-width="0.25">500</text>
<line x1="378.30" y1="78.50" x2="380.80" y2="78.50" stroke="#333" stroke-width="1"/>
<text x="372.00" y="81.70" font-size="9.6" text-anchor="end" fill="#1a1a1a" stroke="#1a1a1a" stroke-width="0.25">1000</text>
<line x1="378.30" y1="51.50" x2="380.80" y2="51.50" stroke="#333" stroke-width="1"/>
<text x="372.00" y="54.60" font-size="9.6" text-anchor="end" fill="#1a1a1a" stroke="#1a1a1a" stroke-width="0.25">1500</text>
<line x1="380.50" y1="132.50" x2="380.50" y2="135.00" stroke="#333" stroke-width="1"/>
<line x1="414.50" y1="132.50" x2="414.50" y2="135.00" stroke="#333" stroke-width="1"/>
<line x1="450.50" y1="132.50" x2="450.50" y2="135.00" stroke="#333" stroke-width="1"/>
<line x1="483.50" y1="132.50" x2="483.50" y2="135.00" stroke="#333" stroke-width="1"/>
<line x1="517.50" y1="132.50" x2="517.50" y2="135.00" stroke="#333" stroke-width="1"/>
<g>
<rect x="384.10" y="91.47" width="4.60" height="41.03" fill="#9c9c9c"/>
<rect x="388.70" y="102.42" width="4.60" height="30.08" fill="#050505"/>
<rect x="393.30" y="91.47" width="4.60" height="41.03" fill="#9c9c9c"/>
<rect x="397.90" y="111.36" width="4.60" height="21.14" fill="#050505"/>
<rect x="402.50" y="89.74" width="4.60" height="42.76" fill="#9c9c9c"/>
<rect x="407.10" y="111.36" width="4.60" height="21.14" fill="#050505"/>
<rect x="418.60" y="101.12" width="4.63" height="31.38" fill="#9c9c9c"/>
<rect x="423.23" y="79.60" width="4.63" height="52.90" fill="#050505"/>
<rect x="427.86" y="107.19" width="4.63" height="25.31" fill="#9c9c9c"/>
<rect x="432.49" y="113.26" width="4.63" height="19.24" fill="#050505"/>
<rect x="437.12" y="107.03" width="4.63" height="25.47" fill="#9c9c9c"/>
<rect x="441.75" y="113.26" width="4.63" height="19.24" fill="#050505"/>
<rect x="453.20" y="130.01" width="4.55" height="2.49" fill="#9c9c9c"/>
<rect x="457.75" y="126.27" width="4.55" height="6.23" fill="#050505"/>
<rect x="462.30" y="129.52" width="4.55" height="2.98" fill="#9c9c9c"/>
<rect x="466.85" y="128.16" width="4.55" height="4.34" fill="#050505"/>
<rect x="471.40" y="130.06" width="4.55" height="2.44" fill="#9c9c9c"/>
<rect x="475.95" y="128.16" width="4.55" height="4.34" fill="#050505"/>
<rect x="487.80" y="127.19" width="4.55" height="5.31" fill="#9c9c9c"/>
<rect x="492.35" y="125.24" width="4.55" height="7.26" fill="#050505"/>
<rect x="496.90" y="127.19" width="4.55" height="5.31" fill="#9c9c9c"/>
<rect x="501.45" y="125.24" width="4.55" height="7.26" fill="#050505"/>
<rect x="506.00" y="127.19" width="4.55" height="5.31" fill="#9c9c9c"/>
<rect x="510.55" y="125.24" width="4.55" height="7.26" fill="#050505"/>
</g>
<text x="397.90" y="148.50" font-size="9.6" text-anchor="middle" font-style="italic" fill="#1a1a1a" stroke="#1a1a1a" stroke-width="0.25">Ms4a2</text>
<text x="432.49" y="148.50" font-size="9.6" text-anchor="middle" font-style="italic" fill="#1a1a1a" stroke="#1a1a1a" stroke-width="0.25">Fcer1g</text>
<text x="466.85" y="148.50" font-size="9.6" text-anchor="middle" font-style="italic" fill="#1a1a1a" stroke="#1a1a1a" stroke-width="0.25">Fcgr2b</text>
<text x="501.45" y="148.50" font-size="9.6" text-anchor="middle" font-style="italic" fill="#1a1a1a" stroke="#1a1a1a" stroke-width="0.25">Fcgr3</text>
<path d="M174.20,62.80 V60.60 Q174.20,59.60 175.20,59.60 H183.20 Q184.20,59.60 184.20,60.60 V62.80 M179.20,59.60 V56.10" fill="none" stroke="#1a1a1a" stroke-width="1.05"/>
<path d="M185.60,66.80 V64.60 Q185.60,63.60 186.60,63.60 H194.40 Q195.40,63.60 195.40,64.60 V66.80 M190.50,63.60 V60.10" fill="none" stroke="#1a1a1a" stroke-width="1.05"/>
<path d="M196.50,70.60 V68.40 Q196.50,67.40 197.50,67.40 H205.40 Q206.40,67.40 206.40,68.40 V70.60 M201.45,67.40 V63.90" fill="none" stroke="#1a1a1a" stroke-width="1.05"/>
<text x="0" y="0" font-size="8.6" fill="#1a1a1a" transform="translate(179.30,53.10) rotate(-55)">CreER<tspan font-size="5.6" dy="-3.3">T2</tspan></text>
<text x="0" y="0" font-size="9.4" fill="#1a1a1a" transform="translate(190.40,55.20) rotate(-55)">&#916;CF/&#916;CF #1</text>
<text x="0" y="0" font-size="9.4" fill="#1a1a1a" transform="translate(201.50,59.40) rotate(-55)">&#916;CF/&#916;CF #2</text>
<text x="0" y="0" font-size="10.1" text-anchor="middle" fill="#1a1a1a" stroke="#1a1a1a" stroke-width="0.25" transform="translate(138.40,196.50) rotate(-90)">RPKM</text>
<line x1="170.50" y1="160.70" x2="170.50" y2="242.40" stroke="#333" stroke-width="1"/>
<line x1="167.50" y1="242.50" x2="208.80" y2="242.50" stroke="#333" stroke-width="1"/>
<line x1="167.50" y1="242.50" x2="170.00" y2="242.50" stroke="#333" stroke-width="1"/>
<text x="161.20" y="245.80" font-size="9.6" text-anchor="end" fill="#1a1a1a" stroke="#1a1a1a" stroke-width="0.25">0</text>
<line x1="167.50" y1="215.50" x2="170.00" y2="215.50" stroke="#333" stroke-width="1"/>
<text x="161.20" y="218.57" font-size="9.6" text-anchor="end" fill="#1a1a1a" stroke="#1a1a1a" stroke-width="0.25">200</text>
<line x1="167.50" y1="187.50" x2="170.00" y2="187.50" stroke="#333" stroke-width="1"/>
<text x="161.20" y="191.33" font-size="9.6" text-anchor="end" fill="#1a1a1a" stroke="#1a1a1a" stroke-width="0.25">400</text>
<line x1="167.50" y1="160.50" x2="170.00" y2="160.50" stroke="#333" stroke-width="1"/>
<text x="161.20" y="164.10" font-size="9.6" text-anchor="end" fill="#1a1a1a" stroke="#1a1a1a" stroke-width="0.25">600</text>
<line x1="170.50" y1="242.40" x2="170.50" y2="244.90" stroke="#333" stroke-width="1"/>
<line x1="208.50" y1="242.40" x2="208.50" y2="244.90" stroke="#333" stroke-width="1"/>
<g>
<rect x="174.20" y="191.75" width="5.37" height="50.65" fill="#9c9c9c"/>
<rect x="179.57" y="169.28" width="5.37" height="73.12" fill="#050505"/>
<rect x="184.94" y="204.68" width="5.37" height="37.72" fill="#9c9c9c"/>
<rect x="190.31" y="241.04" width="5.37" height="1.36" fill="#050505"/>
<rect x="195.68" y="206.59" width="5.37" height="35.81" fill="#9c9c9c"/>
<rect x="201.05" y="241.31" width="5.37" height="1.09" fill="#050505"/>
</g>
<text x="190.31" y="258.40" font-size="9.6" text-anchor="middle" font-style="italic" fill="#1a1a1a" stroke="#1a1a1a" stroke-width="0.25">Tpsg1</text>
<line x1="246.50" y1="160.70" x2="246.50" y2="242.40" stroke="#333" stroke-width="1"/>
<line x1="244.10" y1="242.50" x2="347.30" y2="242.50" stroke="#333" stroke-width="1"/>
<line x1="244.10" y1="242.50" x2="246.60" y2="242.50" stroke="#333" stroke-width="1"/>
<text x="237.80" y="245.80" font-size="9.6" text-anchor="end" fill="#1a1a1a" stroke="#1a1a1a" stroke-width="0.25">0</text>
<line x1="244.10" y1="226.50" x2="246.60" y2="226.50" stroke="#333" stroke-width="1"/>
<text x="237.80" y="229.46" font-size="9.6" text-anchor="end" fill="#1a1a1a" stroke="#1a1a1a" stroke-width="0.25">5000</text>
<line x1="244.10" y1="209.50" x2="246.60" y2="209.50" stroke="#333" stroke-width="1"/>
<text x="237.80" y="213.12" font-size="9.6" text-anchor="end" fill="#1a1a1a" stroke="#1a1a1a" stroke-width="0.25">10000</text>
<line x1="244.10" y1="193.50" x2="246.60" y2="193.50" stroke="#333" stroke-width="1"/>
<text x="237.80" y="196.78" font-size="9.6" text-anchor="end" fill="#1a1a1a" stroke="#1a1a1a" stroke-width="0.25">15000</text>
<line x1="244.10" y1="177.50" x2="246.60" y2="177.50" stroke="#333" stroke-width="1"/>
<text x="237.80" y="180.44" font-size="9.6" text-anchor="end" fill="#1a1a1a" stroke="#1a1a1a" stroke-width="0.25">20000</text>
<line x1="244.10" y1="160.50" x2="246.60" y2="160.50" stroke="#333" stroke-width="1"/>
<text x="237.80" y="164.10" font-size="9.6" text-anchor="end" fill="#1a1a1a" stroke="#1a1a1a" stroke-width="0.25">25000</text>
<line x1="246.50" y1="242.40" x2="246.50" y2="244.90" stroke="#333" stroke-width="1"/>
<line x1="280.50" y1="242.40" x2="280.50" y2="244.90" stroke="#333" stroke-width="1"/>
<line x1="313.50" y1="242.40" x2="313.50" y2="244.90" stroke="#333" stroke-width="1"/>
<line x1="347.50" y1="242.40" x2="347.50" y2="244.90" stroke="#333" stroke-width="1"/>
<g>
<rect x="249.30" y="217.86" width="4.58" height="24.54" fill="#9c9c9c"/>
<rect x="253.88" y="182.55" width="4.58" height="59.85" fill="#050505"/>
<rect x="258.46" y="208.98" width="4.58" height="33.42" fill="#9c9c9c"/>
<rect x="263.04" y="237.81" width="4.58" height="4.59" fill="#050505"/>
<rect x="267.62" y="203.99" width="4.58" height="38.41" fill="#9c9c9c"/>
<rect x="272.20" y="235.81" width="4.58" height="6.59" fill="#050505"/>
<rect x="283.00" y="210.18" width="4.57" height="32.22" fill="#9c9c9c"/>
<rect x="287.57" y="195.62" width="4.57" height="46.78" fill="#050505"/>
<rect x="292.14" y="208.28" width="4.57" height="34.12" fill="#9c9c9c"/>
<rect x="296.71" y="190.53" width="4.57" height="51.87" fill="#050505"/>
<rect x="301.28" y="211.38" width="4.57" height="31.02" fill="#9c9c9c"/>
<rect x="305.85" y="192.22" width="4.57" height="50.18" fill="#050505"/>
<rect x="317.30" y="177.66" width="4.62" height="64.74" fill="#9c9c9c"/>
<rect x="321.92" y="190.53" width="4.62" height="51.87" fill="#050505"/>
<rect x="326.54" y="192.22" width="4.62" height="50.18" fill="#9c9c9c"/>
<rect x="331.16" y="204.30" width="4.62" height="38.10" fill="#050505"/>
<rect x="335.78" y="188.33" width="4.62" height="54.07" fill="#9c9c9c"/>
<rect x="340.40" y="204.30" width="4.62" height="38.10" fill="#050505"/>
</g>
<text x="263.04" y="258.40" font-size="9.6" text-anchor="middle" font-style="italic" fill="#1a1a1a" stroke="#1a1a1a" stroke-width="0.25">Tpsb2</text>
<text x="296.71" y="258.40" font-size="9.6" text-anchor="middle" font-style="italic" fill="#1a1a1a" stroke="#1a1a1a" stroke-width="0.25">Cma1</text>
<text x="331.16" y="258.40" font-size="9.6" text-anchor="middle" font-style="italic" fill="#1a1a1a" stroke="#1a1a1a" stroke-width="0.25">Cpa3</text>
<line x1="371.50" y1="160.70" x2="371.50" y2="242.20" stroke="#333" stroke-width="1"/>
<line x1="368.90" y1="242.50" x2="508.70" y2="242.50" stroke="#333" stroke-width="1"/>
<line x1="368.90" y1="242.50" x2="371.40" y2="242.50" stroke="#333" stroke-width="1"/>
<text x="362.60" y="245.60" font-size="9.6" text-anchor="end" fill="#1a1a1a" stroke="#1a1a1a" stroke-width="0.25">0</text>
<line x1="368.90" y1="221.50" x2="371.40" y2="221.50" stroke="#333" stroke-width="1"/>
<text x="362.60" y="225.22" font-size="9.6" text-anchor="end" fill="#1a1a1a" stroke="#1a1a1a" stroke-width="0.25">5</text>
<line x1="368.90" y1="201.50" x2="371.40" y2="201.50" stroke="#333" stroke-width="1"/>
<text x="362.60" y="204.85" font-size="9.6" text-anchor="end" fill="#1a1a1a" stroke="#1a1a1a" stroke-width="0.25">10</text>
<line x1="368.90" y1="181.50" x2="371.40" y2="181.50" stroke="#333" stroke-width="1"/>
<text x="362.60" y="184.47" font-size="9.6" text-anchor="end" fill="#1a1a1a" stroke="#1a1a1a" stroke-width="0.25">15</text>
<line x1="368.90" y1="160.50" x2="371.40" y2="160.50" stroke="#333" stroke-width="1"/>
<text x="362.60" y="164.10" font-size="9.6" text-anchor="end" fill="#1a1a1a" stroke="#1a1a1a" stroke-width="0.25">20</text>
<line x1="371.50" y1="242.20" x2="371.50" y2="244.70" stroke="#333" stroke-width="1"/>
<line x1="405.50" y1="242.20" x2="405.50" y2="244.70" stroke="#333" stroke-width="1"/>
<line x1="440.50" y1="242.20" x2="440.50" y2="244.70" stroke="#333" stroke-width="1"/>
<line x1="474.50" y1="242.20" x2="474.50" y2="244.70" stroke="#333" stroke-width="1"/>
<line x1="508.50" y1="242.20" x2="508.50" y2="244.70" stroke="#333" stroke-width="1"/>
<g>
<rect x="375.30" y="210.62" width="4.55" height="31.58" fill="#9c9c9c"/>
<rect x="379.85" y="223.58" width="4.55" height="18.62" fill="#050505"/>
<rect x="384.40" y="191.67" width="4.55" height="50.53" fill="#9c9c9c"/>
<rect x="388.95" y="236.49" width="4.55" height="5.71" fill="#050505"/>
<rect x="393.50" y="174.55" width="4.55" height="67.65" fill="#9c9c9c"/>
<rect x="398.05" y="234.21" width="4.55" height="7.99" fill="#050505"/>
<rect x="409.50" y="238.21" width="4.42" height="3.99" fill="#9c9c9c"/>
<rect x="413.92" y="239.10" width="4.42" height="3.10" fill="#050505"/>
<rect x="418.34" y="227.53" width="4.42" height="14.67" fill="#9c9c9c"/>
<rect x="422.76" y="240.77" width="4.42" height="1.43" fill="#050505"/>
<rect x="427.18" y="227.53" width="4.42" height="14.67" fill="#9c9c9c"/>
<rect x="431.60" y="240.77" width="4.42" height="1.43" fill="#050505"/>
<rect x="443.50" y="222.64" width="4.53" height="19.56" fill="#9c9c9c"/>
<rect x="448.03" y="226.47" width="4.53" height="15.73" fill="#050505"/>
<rect x="452.56" y="216.53" width="4.53" height="25.67" fill="#9c9c9c"/>
<rect x="457.09" y="237.72" width="4.53" height="4.48" fill="#050505"/>
<rect x="461.62" y="199.82" width="4.53" height="42.38" fill="#9c9c9c"/>
<rect x="466.15" y="234.34" width="4.53" height="7.86" fill="#050505"/>
<rect x="477.90" y="226.47" width="4.57" height="15.73" fill="#9c9c9c"/>
<rect x="482.47" y="217.51" width="4.57" height="24.69" fill="#050505"/>
<rect x="487.04" y="231.24" width="4.57" height="10.96" fill="#9c9c9c"/>
<rect x="491.61" y="234.34" width="4.57" height="7.86" fill="#050505"/>
<rect x="496.18" y="226.47" width="4.57" height="15.73" fill="#9c9c9c"/>
<rect x="500.75" y="233.32" width="4.57" height="8.88" fill="#050505"/>
</g>
<text x="388.95" y="258.20" font-size="9.6" text-anchor="middle" font-style="italic" fill="#1a1a1a" stroke="#1a1a1a" stroke-width="0.25">Mcpt2</text>
<text x="422.76" y="258.20" font-size="9.6" text-anchor="middle" font-style="italic" fill="#1a1a1a" stroke="#1a1a1a" stroke-width="0.25">Tpsab1</text>
<text x="457.09" y="258.20" font-size="9.6" text-anchor="middle" font-style="italic" fill="#1a1a1a" stroke="#1a1a1a" stroke-width="0.25">Prss34</text>
<text x="491.61" y="258.20" font-size="9.6" text-anchor="middle" font-style="italic" fill="#1a1a1a" stroke="#1a1a1a" stroke-width="0.25">Cma2</text>
<text x="0" y="0" font-size="10.1" text-anchor="middle" fill="#1a1a1a" stroke="#1a1a1a" stroke-width="0.25" transform="translate(138.40,304.00) rotate(-90)">RPKM</text>
<line x1="168.50" y1="272.30" x2="168.50" y2="353.60" stroke="#333" stroke-width="1"/>
<line x1="166.30" y1="353.50" x2="237.00" y2="353.50" stroke="#333" stroke-width="1"/>
<line x1="166.30" y1="353.50" x2="168.80" y2="353.50" stroke="#333" stroke-width="1"/>
<text x="160.00" y="357.00" font-size="9.6" text-anchor="end" fill="#1a1a1a" stroke="#1a1a1a" stroke-width="0.25">0</text>
<line x1="166.30" y1="333.50" x2="168.80" y2="333.50" stroke="#333" stroke-width="1"/>
<text x="160.00" y="336.68" font-size="9.6" text-anchor="end" fill="#1a1a1a" stroke="#1a1a1a" stroke-width="0.25">200</text>
<line x1="166.30" y1="312.50" x2="168.80" y2="312.50" stroke="#333" stroke-width="1"/>
<text x="160.00" y="316.35" font-size="9.6" text-anchor="end" fill="#1a1a1a" stroke="#1a1a1a" stroke-width="0.25">400</text>
<line x1="166.30" y1="292.50" x2="168.80" y2="292.50" stroke="#333" stroke-width="1"/>
<text x="160.00" y="296.02" font-size="9.6" text-anchor="end" fill="#1a1a1a" stroke="#1a1a1a" stroke-width="0.25">600</text>
<line x1="166.30" y1="272.50" x2="168.80" y2="272.50" stroke="#333" stroke-width="1"/>
<text x="160.00" y="275.70" font-size="9.6" text-anchor="end" fill="#1a1a1a" stroke="#1a1a1a" stroke-width="0.25">800</text>
<line x1="168.50" y1="353.60" x2="168.50" y2="356.10" stroke="#333" stroke-width="1"/>
<line x1="202.50" y1="353.60" x2="202.50" y2="356.10" stroke="#333" stroke-width="1"/>
<line x1="237.50" y1="353.60" x2="237.50" y2="356.10" stroke="#333" stroke-width="1"/>
<g>
<rect x="172.70" y="310.82" width="4.42" height="42.78" fill="#9c9c9c"/>
<rect x="177.12" y="291.00" width="4.42" height="62.60" fill="#050505"/>
<rect x="181.54" y="304.01" width="4.42" height="49.59" fill="#9c9c9c"/>
<rect x="185.96" y="299.74" width="4.42" height="53.86" fill="#050505"/>
<rect x="190.38" y="309.80" width="4.42" height="43.80" fill="#9c9c9c"/>
<rect x="194.80" y="293.95" width="4.42" height="59.65" fill="#050505"/>
<rect x="205.40" y="341.41" width="4.40" height="12.20" fill="#9c9c9c"/>
<rect x="209.80" y="334.09" width="4.40" height="19.51" fill="#050505"/>
<rect x="214.20" y="341.41" width="4.40" height="12.20" fill="#9c9c9c"/>
<rect x="218.60" y="336.12" width="4.40" height="17.48" fill="#050505"/>
<rect x="223.00" y="341.41" width="4.40" height="12.20" fill="#9c9c9c"/>
<rect x="227.40" y="335.31" width="4.40" height="18.29" fill="#050505"/>
</g>
<text x="185.96" y="369.60" font-size="9.6" text-anchor="middle" font-style="italic" fill="#1a1a1a" stroke="#1a1a1a" stroke-width="0.25">Gata2</text>
<text x="218.60" y="369.60" font-size="9.6" text-anchor="middle" font-style="italic" fill="#1a1a1a" stroke="#1a1a1a" stroke-width="0.25">Scl</text>
<line x1="261.50" y1="272.30" x2="261.50" y2="354.00" stroke="#333" stroke-width="1"/>
<line x1="258.50" y1="354.50" x2="416.00" y2="354.50" stroke="#333" stroke-width="1"/>
<line x1="258.50" y1="354.50" x2="261.00" y2="354.50" stroke="#333" stroke-width="1"/>
<text x="252.20" y="357.40" font-size="9.6" text-anchor="end" fill="#1a1a1a" stroke="#1a1a1a" stroke-width="0.25">0</text>
<line x1="258.50" y1="337.50" x2="261.00" y2="337.50" stroke="#333" stroke-width="1"/>
<text x="252.20" y="341.06" font-size="9.6" text-anchor="end" fill="#1a1a1a" stroke="#1a1a1a" stroke-width="0.25">20</text>
<line x1="258.50" y1="321.50" x2="261.00" y2="321.50" stroke="#333" stroke-width="1"/>
<text x="252.20" y="324.72" font-size="9.6" text-anchor="end" fill="#1a1a1a" stroke="#1a1a1a" stroke-width="0.25">40</text>
<line x1="258.50" y1="304.50" x2="261.00" y2="304.50" stroke="#333" stroke-width="1"/>
<text x="252.20" y="308.38" font-size="9.6" text-anchor="end" fill="#1a1a1a" stroke="#1a1a1a" stroke-width="0.25">60</text>
<line x1="258.50" y1="288.50" x2="261.00" y2="288.50" stroke="#333" stroke-width="1"/>
<text x="252.20" y="292.04" font-size="9.6" text-anchor="end" fill="#1a1a1a" stroke="#1a1a1a" stroke-width="0.25">80</text>
<line x1="258.50" y1="272.50" x2="261.00" y2="272.50" stroke="#333" stroke-width="1"/>
<text x="252.20" y="275.70" font-size="9.6" text-anchor="end" fill="#1a1a1a" stroke="#1a1a1a" stroke-width="0.25">100</text>
<line x1="261.50" y1="354.00" x2="261.50" y2="356.50" stroke="#333" stroke-width="1"/>
<line x1="293.50" y1="354.00" x2="293.50" y2="356.50" stroke="#333" stroke-width="1"/>
<line x1="323.50" y1="354.00" x2="323.50" y2="356.50" stroke="#333" stroke-width="1"/>
<line x1="355.50" y1="354.00" x2="355.50" y2="356.50" stroke="#333" stroke-width="1"/>
<line x1="385.50" y1="354.00" x2="385.50" y2="356.50" stroke="#333" stroke-width="1"/>
<line x1="416.50" y1="354.00" x2="416.50" y2="356.50" stroke="#333" stroke-width="1"/>
<g>
<rect x="264.80" y="324.67" width="4.27" height="29.33" fill="#9c9c9c"/>
<rect x="269.07" y="323.53" width="4.27" height="30.47" fill="#050505"/>
<rect x="273.34" y="327.61" width="4.27" height="26.39" fill="#9c9c9c"/>
<rect x="277.61" y="327.61" width="4.27" height="26.39" fill="#050505"/>
<rect x="281.88" y="329.00" width="4.27" height="25.00" fill="#9c9c9c"/>
<rect x="286.15" y="326.39" width="4.27" height="27.61" fill="#050505"/>
<rect x="296.30" y="301.88" width="4.20" height="52.12" fill="#9c9c9c"/>
<rect x="300.50" y="311.68" width="4.20" height="42.32" fill="#050505"/>
<rect x="304.70" y="308.82" width="4.20" height="45.18" fill="#9c9c9c"/>
<rect x="308.90" y="305.06" width="4.20" height="48.94" fill="#050505"/>
<rect x="313.10" y="305.96" width="4.20" height="48.04" fill="#9c9c9c"/>
<rect x="317.30" y="304.16" width="4.20" height="49.84" fill="#050505"/>
<rect x="326.80" y="298.93" width="4.27" height="55.07" fill="#9c9c9c"/>
<rect x="331.07" y="285.78" width="4.27" height="68.22" fill="#050505"/>
<rect x="335.34" y="313.15" width="4.27" height="40.85" fill="#9c9c9c"/>
<rect x="339.61" y="295.75" width="4.27" height="58.25" fill="#050505"/>
<rect x="343.88" y="313.15" width="4.27" height="40.85" fill="#9c9c9c"/>
<rect x="348.15" y="289.78" width="4.27" height="64.22" fill="#050505"/>
<rect x="358.10" y="319.93" width="4.17" height="34.07" fill="#9c9c9c"/>
<rect x="362.27" y="295.75" width="4.17" height="58.25" fill="#050505"/>
<rect x="366.44" y="311.84" width="4.17" height="42.16" fill="#9c9c9c"/>
<rect x="370.61" y="311.84" width="4.17" height="42.16" fill="#050505"/>
<rect x="374.78" y="316.17" width="4.17" height="37.83" fill="#9c9c9c"/>
<rect x="378.95" y="308.82" width="4.17" height="45.18" fill="#050505"/>
<rect x="388.80" y="307.84" width="4.10" height="46.16" fill="#9c9c9c"/>
<rect x="392.90" y="302.77" width="4.10" height="51.23" fill="#050505"/>
<rect x="397.00" y="306.37" width="4.10" height="47.63" fill="#9c9c9c"/>
<rect x="401.10" y="295.75" width="4.10" height="58.25" fill="#050505"/>
<rect x="405.20" y="309.15" width="4.10" height="44.85" fill="#9c9c9c"/>
<rect x="409.30" y="309.96" width="4.10" height="44.04" fill="#050505"/>
</g>
<text x="277.61" y="370.00" font-size="9.6" text-anchor="middle" font-style="italic" fill="#1a1a1a" stroke="#1a1a1a" stroke-width="0.25">Mitf</text>
<text x="308.90" y="370.00" font-size="9.6" text-anchor="middle" font-style="italic" fill="#1a1a1a" stroke="#1a1a1a" stroke-width="0.25">Runx1</text>
<text x="339.61" y="370.00" font-size="9.6" text-anchor="middle" font-style="italic" fill="#1a1a1a" stroke="#1a1a1a" stroke-width="0.25">Gata1</text>
<text x="370.61" y="370.00" font-size="9.6" text-anchor="middle" font-style="italic" fill="#1a1a1a" stroke="#1a1a1a" stroke-width="0.25">Sfpi1</text>
<text x="401.10" y="370.00" font-size="9.6" text-anchor="middle" font-style="italic" fill="#1a1a1a" stroke="#1a1a1a" stroke-width="0.25">Ikzf1</text>
<line x1="442.50" y1="270.90" x2="442.50" y2="354.40" stroke="#333" stroke-width="1"/>
<line x1="439.90" y1="354.50" x2="509.00" y2="354.50" stroke="#333" stroke-width="1"/>
<line x1="439.90" y1="354.50" x2="442.40" y2="354.50" stroke="#333" stroke-width="1"/>
<text x="433.60" y="357.80" font-size="9.6" text-anchor="end" fill="#1a1a1a" stroke="#1a1a1a" stroke-width="0.25">0</text>
<line x1="439.90" y1="333.50" x2="442.40" y2="333.50" stroke="#333" stroke-width="1"/>
<text x="433.60" y="336.92" font-size="9.6" text-anchor="end" fill="#1a1a1a" stroke="#1a1a1a" stroke-width="0.25">2</text>
<line x1="439.90" y1="312.50" x2="442.40" y2="312.50" stroke="#333" stroke-width="1"/>
<text x="433.60" y="316.05" font-size="9.6" text-anchor="end" fill="#1a1a1a" stroke="#1a1a1a" stroke-width="0.25">4</text>
<line x1="439.90" y1="291.50" x2="442.40" y2="291.50" stroke="#333" stroke-width="1"/>
<text x="433.60" y="295.17" font-size="9.6" text-anchor="end" fill="#1a1a1a" stroke="#1a1a1a" stroke-width="0.25">6</text>
<line x1="439.90" y1="270.50" x2="442.40" y2="270.50" stroke="#333" stroke-width="1"/>
<text x="433.60" y="274.30" font-size="9.6" text-anchor="end" fill="#1a1a1a" stroke="#1a1a1a" stroke-width="0.25">8</text>
<line x1="442.50" y1="354.40" x2="442.50" y2="356.90" stroke="#333" stroke-width="1"/>
<line x1="475.50" y1="354.40" x2="475.50" y2="356.90" stroke="#333" stroke-width="1"/>
<line x1="509.50" y1="354.40" x2="509.50" y2="356.90" stroke="#333" stroke-width="1"/>
<g>
<rect x="446.00" y="330.08" width="4.47" height="24.32" fill="#9c9c9c"/>
<rect x="450.47" y="304.30" width="4.47" height="50.10" fill="#050505"/>
<rect x="454.94" y="325.91" width="4.47" height="28.49" fill="#9c9c9c"/>
<rect x="459.41" y="334.26" width="4.47" height="20.14" fill="#050505"/>
<rect x="463.88" y="324.76" width="4.47" height="29.64" fill="#9c9c9c"/>
<rect x="468.35" y="330.08" width="4.47" height="24.32" fill="#050505"/>
<rect x="478.50" y="354.09" width="4.63" height="0.31" fill="#9c9c9c"/>
<rect x="483.13" y="353.77" width="4.63" height="0.63" fill="#050505"/>
<rect x="487.76" y="353.77" width="4.63" height="0.63" fill="#9c9c9c"/>
<rect x="492.39" y="284.57" width="4.63" height="69.83" fill="#050505"/>
<rect x="497.02" y="351.89" width="4.63" height="2.50" fill="#9c9c9c"/>
<rect x="501.65" y="298.35" width="4.63" height="56.05" fill="#050505"/>
</g>
<text x="459.41" y="370.40" font-size="9.6" text-anchor="middle" font-style="italic" fill="#1a1a1a" stroke="#1a1a1a" stroke-width="0.25">Gata3</text>
<text x="492.39" y="370.40" font-size="9.6" text-anchor="middle" font-style="italic" fill="#1a1a1a" stroke="#1a1a1a" stroke-width="0.25">Cebpa</text>
<text x="130.00" y="387.40" font-size="18.2" text-anchor="start" font-weight="bold" fill="#000" stroke="#000" stroke-width="0.25">C</text>
<text x="0" y="0" font-size="9.6" text-anchor="middle" fill="#1a1a1a" stroke="#1a1a1a" stroke-width="0.25" transform="translate(146.00,449.60) rotate(-90)">Expression</text>
<text x="205.00" y="397.40" font-size="11.6" text-anchor="middle" font-style="italic" fill="#1a1a1a" stroke="#1a1a1a" stroke-width="0.25">Ms4a2</text>
<text x="155.00" y="404.30" font-size="9.8" text-anchor="middle" fill="#1a1a1a" stroke="#1a1a1a" stroke-width="0.25">(x10^-3)</text>
<line x1="166.50" y1="413.90" x2="166.50" y2="482.70" stroke="#333" stroke-width="1"/>
<line x1="164.60" y1="482.50" x2="254.00" y2="482.50" stroke="#333" stroke-width="1"/>
<line x1="163.50" y1="482.50" x2="166.10" y2="482.50" stroke="#333" stroke-width="1"/>
<text x="157.50" y="487.00" font-size="9.8" text-anchor="end" fill="#1a1a1a" stroke="#1a1a1a" stroke-width="0.25">0</text>
<line x1="163.50" y1="459.50" x2="166.10" y2="459.50" stroke="#333" stroke-width="1"/>
<text x="157.50" y="464.07" font-size="9.8" text-anchor="end" fill="#1a1a1a" stroke="#1a1a1a" stroke-width="0.25">2</text>
<line x1="163.50" y1="436.50" x2="166.10" y2="436.50" stroke="#333" stroke-width="1"/>
<text x="157.50" y="441.13" font-size="9.8" text-anchor="end" fill="#1a1a1a" stroke="#1a1a1a" stroke-width="0.25">4</text>
<line x1="163.50" y1="413.50" x2="166.10" y2="413.50" stroke="#333" stroke-width="1"/>
<text x="157.50" y="418.20" font-size="9.8" text-anchor="end" fill="#1a1a1a" stroke="#1a1a1a" stroke-width="0.25">6</text>
<line x1="166.50" y1="482.70" x2="166.50" y2="485.10" stroke="#333" stroke-width="1"/>
<line x1="195.50" y1="482.70" x2="195.50" y2="485.10" stroke="#333" stroke-width="1"/>
<line x1="224.50" y1="482.70" x2="224.50" y2="485.10" stroke="#333" stroke-width="1"/>
<line x1="254.50" y1="482.70" x2="254.50" y2="485.10" stroke="#333" stroke-width="1"/>
<g>
<rect x="175.00" y="431.79" width="11.90" height="50.91" fill="#000"/>
<rect x="203.50" y="464.58" width="11.90" height="18.12" fill="#000"/>
<rect x="233.10" y="475.59" width="11.50" height="7.11" fill="#000"/>
</g>
<line x1="180.50" y1="429.84" x2="180.50" y2="431.79" stroke="#000" stroke-width="1.3"/>
<line x1="177.95" y1="429.50" x2="183.95" y2="429.50" stroke="#000" stroke-width="1.3"/>
<line x1="209.50" y1="463.09" x2="209.50" y2="464.58" stroke="#000" stroke-width="1.3"/>
<line x1="206.45" y1="463.50" x2="212.45" y2="463.50" stroke="#000" stroke-width="1.3"/>
<line x1="238.50" y1="473.07" x2="238.50" y2="475.59" stroke="#000" stroke-width="1.3"/>
<line x1="235.85" y1="473.50" x2="241.85" y2="473.50" stroke="#000" stroke-width="1.3"/>
<line x1="181.70" y1="424.50" x2="207.70" y2="424.50" stroke="#111" stroke-width="1.2"/>
<text x="193.70" y="423.10" font-size="11.5" font-weight="bold" text-anchor="middle" fill="#111" letter-spacing="-0.3">**</text>
<line x1="212.00" y1="456.50" x2="238.00" y2="456.50" stroke="#111" stroke-width="1.2"/>
<text x="224.00" y="455.60" font-size="11.5" font-weight="bold" text-anchor="middle" fill="#111" letter-spacing="-0.3">**</text>
<text x="180.40" y="499.00" font-size="9.7" text-anchor="middle" fill="#1a1a1a" stroke="#1a1a1a" stroke-width="0.25">D0</text>
<text x="209.80" y="499.00" font-size="9.7" text-anchor="middle" fill="#1a1a1a" stroke="#1a1a1a" stroke-width="0.25">D5</text>
<text x="239.40" y="499.00" font-size="9.7" text-anchor="middle" fill="#1a1a1a" stroke="#1a1a1a" stroke-width="0.25">D10</text>
<text x="327.60" y="396.90" font-size="11.6" text-anchor="middle" font-style="italic" fill="#1a1a1a" stroke="#1a1a1a" stroke-width="0.25">Cpa3</text>
<text x="277.80" y="404.30" font-size="9.8" text-anchor="middle" fill="#1a1a1a" stroke="#1a1a1a" stroke-width="0.25">(x10^-1)</text>
<line x1="287.50" y1="414.10" x2="287.50" y2="482.90" stroke="#333" stroke-width="1"/>
<line x1="285.70" y1="482.50" x2="375.60" y2="482.50" stroke="#333" stroke-width="1"/>
<line x1="284.60" y1="482.50" x2="287.20" y2="482.50" stroke="#333" stroke-width="1"/>
<text x="278.60" y="487.20" font-size="9.8" text-anchor="end" fill="#1a1a1a" stroke="#1a1a1a" stroke-width="0.25">0</text>
<line x1="284.60" y1="459.50" x2="287.20" y2="459.50" stroke="#333" stroke-width="1"/>
<text x="278.60" y="464.27" font-size="9.8" text-anchor="end" fill="#1a1a1a" stroke="#1a1a1a" stroke-width="0.25">1</text>
<line x1="284.60" y1="437.50" x2="287.20" y2="437.50" stroke="#333" stroke-width="1"/>
<text x="278.60" y="441.33" font-size="9.8" text-anchor="end" fill="#1a1a1a" stroke="#1a1a1a" stroke-width="0.25">2</text>
<line x1="284.60" y1="414.50" x2="287.20" y2="414.50" stroke="#333" stroke-width="1"/>
<text x="278.60" y="418.40" font-size="9.8" text-anchor="end" fill="#1a1a1a" stroke="#1a1a1a" stroke-width="0.25">3</text>
<line x1="287.50" y1="482.90" x2="287.50" y2="485.30" stroke="#333" stroke-width="1"/>
<line x1="316.50" y1="482.90" x2="316.50" y2="485.30" stroke="#333" stroke-width="1"/>
<line x1="346.50" y1="482.90" x2="346.50" y2="485.30" stroke="#333" stroke-width="1"/>
<line x1="375.50" y1="482.90" x2="375.50" y2="485.30" stroke="#333" stroke-width="1"/>
<g>
<rect x="296.40" y="440.70" width="11.80" height="42.20" fill="#000"/>
<rect x="326.20" y="470.75" width="11.50" height="12.15" fill="#000"/>
<rect x="355.60" y="477.85" width="11.90" height="5.05" fill="#000"/>
</g>
<line x1="302.50" y1="437.49" x2="302.50" y2="440.70" stroke="#000" stroke-width="1.3"/>
<line x1="299.30" y1="437.50" x2="305.30" y2="437.50" stroke="#000" stroke-width="1.3"/>
<line x1="331.50" y1="470.06" x2="331.50" y2="470.75" stroke="#000" stroke-width="1.3"/>
<line x1="328.95" y1="470.50" x2="334.95" y2="470.50" stroke="#000" stroke-width="1.3"/>
<line x1="361.50" y1="476.71" x2="361.50" y2="477.85" stroke="#000" stroke-width="1.3"/>
<line x1="358.55" y1="476.50" x2="364.55" y2="476.50" stroke="#000" stroke-width="1.3"/>
<line x1="304.00" y1="433.50" x2="329.50" y2="433.50" stroke="#111" stroke-width="1.2"/>
<text x="315.75" y="432.40" font-size="11.5" font-weight="bold" text-anchor="middle" fill="#111" letter-spacing="-0.3">**</text>
<line x1="334.50" y1="463.50" x2="360.00" y2="463.50" stroke="#111" stroke-width="1.2"/>
<text x="346.25" y="462.40" font-size="11.5" font-weight="bold" text-anchor="middle" fill="#111" letter-spacing="-0.3">**</text>
<text x="302.50" y="499.20" font-size="9.7" text-anchor="middle" fill="#1a1a1a" stroke="#1a1a1a" stroke-width="0.25">D0</text>
<text x="331.70" y="499.20" font-size="9.7" text-anchor="middle" fill="#1a1a1a" stroke="#1a1a1a" stroke-width="0.25">D5</text>
<text x="361.40" y="499.20" font-size="9.7" text-anchor="middle" fill="#1a1a1a" stroke="#1a1a1a" stroke-width="0.25">D10</text>
<text x="448.30" y="397.00" font-size="11.6" text-anchor="middle" font-style="italic" fill="#1a1a1a" stroke="#1a1a1a" stroke-width="0.25">Tpsb2</text>
<text x="398.10" y="404.30" font-size="9.8" text-anchor="middle" fill="#1a1a1a" stroke="#1a1a1a" stroke-width="0.25">(x10^-2)</text>
<line x1="408.50" y1="413.50" x2="408.50" y2="483.20" stroke="#333" stroke-width="1"/>
<line x1="406.60" y1="483.50" x2="496.30" y2="483.50" stroke="#333" stroke-width="1"/>
<line x1="405.50" y1="483.50" x2="408.10" y2="483.50" stroke="#333" stroke-width="1"/>
<text x="399.50" y="487.50" font-size="9.8" text-anchor="end" fill="#1a1a1a" stroke="#1a1a1a" stroke-width="0.25">0</text>
<line x1="405.50" y1="465.50" x2="408.10" y2="465.50" stroke="#333" stroke-width="1"/>
<text x="399.50" y="470.07" font-size="9.8" text-anchor="end" fill="#1a1a1a" stroke="#1a1a1a" stroke-width="0.25">2</text>
<line x1="405.50" y1="448.50" x2="408.10" y2="448.50" stroke="#333" stroke-width="1"/>
<text x="399.50" y="452.65" font-size="9.8" text-anchor="end" fill="#1a1a1a" stroke="#1a1a1a" stroke-width="0.25">4</text>
<line x1="405.50" y1="430.50" x2="408.10" y2="430.50" stroke="#333" stroke-width="1"/>
<text x="399.50" y="435.23" font-size="9.8" text-anchor="end" fill="#1a1a1a" stroke="#1a1a1a" stroke-width="0.25">6</text>
<line x1="405.50" y1="413.50" x2="408.10" y2="413.50" stroke="#333" stroke-width="1"/>
<text x="399.50" y="417.80" font-size="9.8" text-anchor="end" fill="#1a1a1a" stroke="#1a1a1a" stroke-width="0.25">8</text>
<line x1="408.50" y1="483.20" x2="408.50" y2="485.60" stroke="#333" stroke-width="1"/>
<line x1="437.50" y1="483.20" x2="437.50" y2="485.60" stroke="#333" stroke-width="1"/>
<line x1="466.50" y1="483.20" x2="466.50" y2="485.60" stroke="#333" stroke-width="1"/>
<line x1="496.50" y1="483.20" x2="496.50" y2="485.60" stroke="#333" stroke-width="1"/>
<g>
<rect x="416.90" y="436.50" width="11.80" height="46.70" fill="#000"/>
<rect x="446.50" y="481.89" width="11.00" height="1.31" fill="#000"/>
<rect x="475.50" y="482.76" width="12.00" height="0.44" fill="#000"/>
</g>
<line x1="422.50" y1="431.19" x2="422.50" y2="436.50" stroke="#000" stroke-width="1.3"/>
<line x1="419.80" y1="431.50" x2="425.80" y2="431.50" stroke="#000" stroke-width="1.3"/>
<line x1="452.50" y1="481.46" x2="452.50" y2="481.89" stroke="#000" stroke-width="1.3"/>
<line x1="449.00" y1="481.50" x2="455.00" y2="481.50" stroke="#000" stroke-width="1.3"/>
<line x1="481.50" y1="482.50" x2="481.50" y2="482.76" stroke="#000" stroke-width="1.3"/>
<line x1="478.50" y1="482.50" x2="484.50" y2="482.50" stroke="#000" stroke-width="1.3"/>
<line x1="423.00" y1="425.50" x2="449.50" y2="425.50" stroke="#111" stroke-width="1.2"/>
<text x="435.25" y="424.20" font-size="11.5" font-weight="bold" text-anchor="middle" fill="#111" letter-spacing="-0.3">**</text>
<line x1="453.90" y1="474.50" x2="478.90" y2="474.50" stroke="#111" stroke-width="1.2"/>
<text x="465.40" y="473.40" font-size="11.5" font-weight="bold" text-anchor="middle" fill="#111" letter-spacing="-0.3">*</text>
<text x="422.70" y="499.50" font-size="9.7" text-anchor="middle" fill="#1a1a1a" stroke="#1a1a1a" stroke-width="0.25">D0</text>
<text x="452.20" y="499.50" font-size="9.7" text-anchor="middle" fill="#1a1a1a" stroke="#1a1a1a" stroke-width="0.25">D5</text>
<text x="482.30" y="499.50" font-size="9.7" text-anchor="middle" fill="#1a1a1a" stroke="#1a1a1a" stroke-width="0.25">D10</text>
<text x="0" y="0" font-size="9.6" text-anchor="middle" fill="#1a1a1a" stroke="#1a1a1a" stroke-width="0.25" transform="translate(146.00,572.90) rotate(-90)">Expression</text>
<text x="205.30" y="522.40" font-size="11.6" text-anchor="middle" font-style="italic" fill="#1a1a1a" stroke="#1a1a1a" stroke-width="0.25">Tpsg1</text>
<text x="154.50" y="529.30" font-size="9.8" text-anchor="middle" fill="#1a1a1a" stroke="#1a1a1a" stroke-width="0.25">(x10^-4)</text>
<line x1="166.50" y1="539.40" x2="166.50" y2="608.40" stroke="#333" stroke-width="1"/>
<line x1="164.60" y1="608.50" x2="254.00" y2="608.50" stroke="#333" stroke-width="1"/>
<line x1="163.50" y1="608.50" x2="166.10" y2="608.50" stroke="#333" stroke-width="1"/>
<text x="157.50" y="612.70" font-size="9.8" text-anchor="end" fill="#1a1a1a" stroke="#1a1a1a" stroke-width="0.25">0</text>
<line x1="163.50" y1="573.50" x2="166.10" y2="573.50" stroke="#333" stroke-width="1"/>
<text x="157.50" y="578.20" font-size="9.8" text-anchor="end" fill="#1a1a1a" stroke="#1a1a1a" stroke-width="0.25">2</text>
<line x1="163.50" y1="539.50" x2="166.10" y2="539.50" stroke="#333" stroke-width="1"/>
<text x="157.50" y="543.70" font-size="9.8" text-anchor="end" fill="#1a1a1a" stroke="#1a1a1a" stroke-width="0.25">4</text>
<line x1="166.50" y1="608.40" x2="166.50" y2="610.80" stroke="#333" stroke-width="1"/>
<line x1="195.50" y1="608.40" x2="195.50" y2="610.80" stroke="#333" stroke-width="1"/>
<line x1="224.50" y1="608.40" x2="224.50" y2="610.80" stroke="#333" stroke-width="1"/>
<line x1="254.50" y1="608.40" x2="254.50" y2="610.80" stroke="#333" stroke-width="1"/>
<g>
<rect x="175.00" y="567.00" width="10.75" height="41.40" fill="#000"/>
<rect x="203.75" y="607.88" width="12.50" height="0.52" fill="#000"/>
<rect x="233.00" y="607.54" width="12.00" height="0.86" fill="#000"/>
</g>
<line x1="180.50" y1="553.72" x2="180.50" y2="567.00" stroke="#000" stroke-width="1.3"/>
<line x1="177.38" y1="553.50" x2="183.38" y2="553.50" stroke="#000" stroke-width="1.3"/>
<line x1="210.50" y1="607.54" x2="210.50" y2="607.88" stroke="#000" stroke-width="1.3"/>
<line x1="207.00" y1="607.50" x2="213.00" y2="607.50" stroke="#000" stroke-width="1.3"/>
<line x1="239.50" y1="606.85" x2="239.50" y2="607.54" stroke="#000" stroke-width="1.3"/>
<line x1="236.00" y1="606.50" x2="242.00" y2="606.50" stroke="#000" stroke-width="1.3"/>
<line x1="181.25" y1="547.50" x2="207.50" y2="547.50" stroke="#111" stroke-width="1.2"/>
<text x="193.38" y="546.70" font-size="11.5" font-weight="bold" text-anchor="middle" fill="#111" letter-spacing="-0.3">**</text>
<line x1="211.25" y1="600.50" x2="237.50" y2="600.50" stroke="#111" stroke-width="1.2"/>
<text x="224.38" y="596.00" font-size="9.6" text-anchor="middle" fill="#1a1a1a" stroke="#1a1a1a" stroke-width="0.25">ns</text>
<text x="180.40" y="624.70" font-size="9.7" text-anchor="middle" fill="#1a1a1a" stroke="#1a1a1a" stroke-width="0.25">D0</text>
<text x="209.80" y="624.70" font-size="9.7" text-anchor="middle" fill="#1a1a1a" stroke="#1a1a1a" stroke-width="0.25">D5</text>
<text x="239.40" y="624.70" font-size="9.7" text-anchor="middle" fill="#1a1a1a" stroke="#1a1a1a" stroke-width="0.25">D10</text>
<text x="327.80" y="522.00" font-size="11.6" text-anchor="middle" font-style="italic" fill="#1a1a1a" stroke="#1a1a1a" stroke-width="0.25">Mcpt4</text>
<text x="277.60" y="529.30" font-size="9.8" text-anchor="middle" fill="#1a1a1a" stroke="#1a1a1a" stroke-width="0.25">(x10^-4)</text>
<line x1="287.50" y1="538.80" x2="287.50" y2="607.90" stroke="#333" stroke-width="1"/>
<line x1="285.70" y1="607.50" x2="375.60" y2="607.50" stroke="#333" stroke-width="1"/>
<line x1="284.60" y1="607.50" x2="287.20" y2="607.50" stroke="#333" stroke-width="1"/>
<text x="278.60" y="612.20" font-size="9.8" text-anchor="end" fill="#1a1a1a" stroke="#1a1a1a" stroke-width="0.25">0</text>
<line x1="284.60" y1="590.50" x2="287.20" y2="590.50" stroke="#333" stroke-width="1"/>
<text x="278.60" y="594.92" font-size="9.8" text-anchor="end" fill="#1a1a1a" stroke="#1a1a1a" stroke-width="0.25">2</text>
<line x1="284.60" y1="573.50" x2="287.20" y2="573.50" stroke="#333" stroke-width="1"/>
<text x="278.60" y="577.65" font-size="9.8" text-anchor="end" fill="#1a1a1a" stroke="#1a1a1a" stroke-width="0.25">4</text>
<line x1="284.60" y1="556.50" x2="287.20" y2="556.50" stroke="#333" stroke-width="1"/>
<text x="278.60" y="560.37" font-size="9.8" text-anchor="end" fill="#1a1a1a" stroke="#1a1a1a" stroke-width="0.25">6</text>
<line x1="284.60" y1="538.50" x2="287.20" y2="538.50" stroke="#333" stroke-width="1"/>
<text x="278.60" y="543.10" font-size="9.8" text-anchor="end" fill="#1a1a1a" stroke="#1a1a1a" stroke-width="0.25">8</text>
<line x1="287.50" y1="607.90" x2="287.50" y2="610.30" stroke="#333" stroke-width="1"/>
<line x1="316.50" y1="607.90" x2="316.50" y2="610.30" stroke="#333" stroke-width="1"/>
<line x1="346.50" y1="607.90" x2="346.50" y2="610.30" stroke="#333" stroke-width="1"/>
<line x1="375.50" y1="607.90" x2="375.50" y2="610.30" stroke="#333" stroke-width="1"/>
<g>
<rect x="296.60" y="553.40" width="11.80" height="54.50" fill="#000"/>
<rect x="325.90" y="599.09" width="11.70" height="8.81" fill="#000"/>
<rect x="355.60" y="604.88" width="11.90" height="3.02" fill="#000"/>
</g>
<line x1="302.50" y1="549.16" x2="302.50" y2="553.40" stroke="#000" stroke-width="1.3"/>
<line x1="299.50" y1="549.50" x2="305.50" y2="549.50" stroke="#000" stroke-width="1.3"/>
<line x1="331.50" y1="596.58" x2="331.50" y2="599.09" stroke="#000" stroke-width="1.3"/>
<line x1="328.75" y1="596.50" x2="334.75" y2="596.50" stroke="#000" stroke-width="1.3"/>
<line x1="361.50" y1="603.41" x2="361.50" y2="604.88" stroke="#000" stroke-width="1.3"/>
<line x1="358.55" y1="603.50" x2="364.55" y2="603.50" stroke="#000" stroke-width="1.3"/>
<line x1="302.90" y1="544.50" x2="329.00" y2="544.50" stroke="#111" stroke-width="1.2"/>
<text x="314.95" y="542.40" font-size="11.5" font-weight="bold" text-anchor="middle" fill="#111" letter-spacing="-0.3">**</text>
<line x1="333.75" y1="590.50" x2="359.50" y2="590.50" stroke="#111" stroke-width="1.2"/>
<text x="345.62" y="589.20" font-size="11.5" font-weight="bold" text-anchor="middle" fill="#111" letter-spacing="-0.3">**</text>
<text x="302.50" y="624.20" font-size="9.7" text-anchor="middle" fill="#1a1a1a" stroke="#1a1a1a" stroke-width="0.25">D0</text>
<text x="331.70" y="624.20" font-size="9.7" text-anchor="middle" fill="#1a1a1a" stroke="#1a1a1a" stroke-width="0.25">D5</text>
<text x="361.40" y="624.20" font-size="9.7" text-anchor="middle" fill="#1a1a1a" stroke="#1a1a1a" stroke-width="0.25">D10</text>
<text x="448.50" y="522.00" font-size="11.6" text-anchor="middle" font-style="italic" fill="#1a1a1a" stroke="#1a1a1a" stroke-width="0.25">Mcpt9</text>
<text x="398.00" y="529.30" font-size="9.8" text-anchor="middle" fill="#1a1a1a" stroke="#1a1a1a" stroke-width="0.25">(x10^-4)</text>
<line x1="408.50" y1="538.80" x2="408.50" y2="607.90" stroke="#333" stroke-width="1"/>
<line x1="407.30" y1="607.50" x2="496.50" y2="607.50" stroke="#333" stroke-width="1"/>
<line x1="406.20" y1="607.50" x2="408.80" y2="607.50" stroke="#333" stroke-width="1"/>
<text x="400.20" y="612.20" font-size="9.8" text-anchor="end" fill="#1a1a1a" stroke="#1a1a1a" stroke-width="0.25">0</text>
<line x1="406.20" y1="584.50" x2="408.80" y2="584.50" stroke="#333" stroke-width="1"/>
<text x="400.20" y="589.17" font-size="9.8" text-anchor="end" fill="#1a1a1a" stroke="#1a1a1a" stroke-width="0.25">2</text>
<line x1="406.20" y1="561.50" x2="408.80" y2="561.50" stroke="#333" stroke-width="1"/>
<text x="400.20" y="566.13" font-size="9.8" text-anchor="end" fill="#1a1a1a" stroke="#1a1a1a" stroke-width="0.25">4</text>
<line x1="406.20" y1="538.50" x2="408.80" y2="538.50" stroke="#333" stroke-width="1"/>
<text x="400.20" y="543.10" font-size="9.8" text-anchor="end" fill="#1a1a1a" stroke="#1a1a1a" stroke-width="0.25">6</text>
<line x1="408.50" y1="607.90" x2="408.50" y2="610.30" stroke="#333" stroke-width="1"/>
<line x1="438.50" y1="607.90" x2="438.50" y2="610.30" stroke="#333" stroke-width="1"/>
<line x1="467.50" y1="607.90" x2="467.50" y2="610.30" stroke="#333" stroke-width="1"/>
<line x1="496.50" y1="607.90" x2="496.50" y2="610.30" stroke="#333" stroke-width="1"/>
<g>
<rect x="417.80" y="552.04" width="11.80" height="55.86" fill="#000"/>
<rect x="447.00" y="597.88" width="11.75" height="10.02" fill="#000"/>
<rect x="476.25" y="604.10" width="11.75" height="3.80" fill="#000"/>
</g>
<line x1="423.50" y1="548.82" x2="423.50" y2="552.04" stroke="#000" stroke-width="1.3"/>
<line x1="420.70" y1="548.50" x2="426.70" y2="548.50" stroke="#000" stroke-width="1.3"/>
<line x1="452.50" y1="595.81" x2="452.50" y2="597.88" stroke="#000" stroke-width="1.3"/>
<line x1="449.88" y1="595.50" x2="455.88" y2="595.50" stroke="#000" stroke-width="1.3"/>
<line x1="482.50" y1="602.83" x2="482.50" y2="604.10" stroke="#000" stroke-width="1.3"/>
<line x1="479.12" y1="602.50" x2="485.12" y2="602.50" stroke="#000" stroke-width="1.3"/>
<line x1="423.40" y1="544.50" x2="449.50" y2="544.50" stroke="#111" stroke-width="1.2"/>
<text x="435.45" y="542.40" font-size="11.5" font-weight="bold" text-anchor="middle" fill="#111" letter-spacing="-0.3">**</text>
<line x1="453.75" y1="590.50" x2="480.00" y2="590.50" stroke="#111" stroke-width="1.2"/>
<text x="465.88" y="589.20" font-size="11.5" font-weight="bold" text-anchor="middle" fill="#111" letter-spacing="-0.3">**</text>
<text x="422.70" y="624.20" font-size="9.7" text-anchor="middle" fill="#1a1a1a" stroke="#1a1a1a" stroke-width="0.25">D0</text>
<text x="452.20" y="624.20" font-size="9.7" text-anchor="middle" fill="#1a1a1a" stroke="#1a1a1a" stroke-width="0.25">D5</text>
<text x="482.30" y="624.20" font-size="9.7" text-anchor="middle" fill="#1a1a1a" stroke="#1a1a1a" stroke-width="0.25">D10</text>
</svg>
</body></html>
